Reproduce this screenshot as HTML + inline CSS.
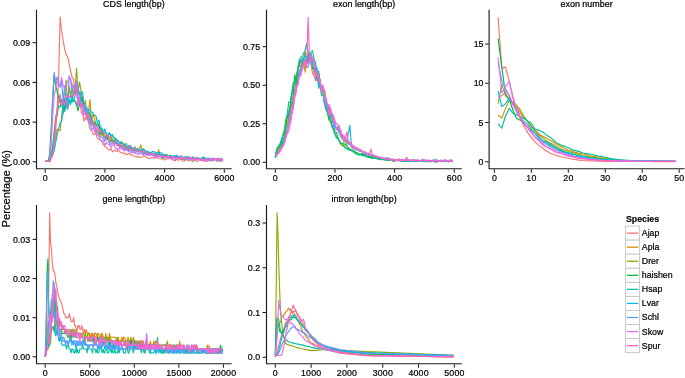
<!DOCTYPE html>
<html><head><meta charset="utf-8"><title>Gene structure statistics</title>
<style>html,body{margin:0;padding:0;background:#fff}body{width:685px;height:378px;overflow:hidden}</style></head>
<body>
<svg width="685" height="378" viewBox="0 0 685 378" style="display:block;will-change:transform;opacity:0.999;font-family:'Liberation Sans',Arial,Helvetica,sans-serif">
<rect width="685" height="378" fill="#fff"/>
<g fill="none" stroke-width="1.15" stroke-linejoin="round" stroke-linecap="butt">
<polyline stroke="#F8766D" points="45.20,161.40 46.69,161.40 48.19,161.36 49.68,161.27 51.17,157.58 52.66,153.92 54.16,143.27 55.65,132.38 57.14,109.09 58.63,77.55 60.12,17.06 61.62,31.11 63.11,39.98 64.60,48.87 66.09,54.66 67.59,56.70 69.08,63.64 70.57,70.85 72.06,77.11 73.56,79.31 75.05,92.65 76.54,88.93 78.03,99.11 79.53,98.44 81.02,105.62 82.51,110.10 84.00,121.26 85.50,117.51 86.99,119.09 88.48,121.81 89.98,129.21 91.47,129.84 92.96,133.76 94.45,134.70 95.95,133.18 97.44,138.36 98.93,139.60 100.42,139.63 101.92,141.79 103.41,144.64 104.90,146.48 106.39,147.35 107.89,148.86 109.38,150.16 110.87,148.56 112.36,151.72 113.86,150.97 115.35,150.15 116.84,151.67 118.33,150.10 119.83,152.01 121.32,152.84 122.81,153.13 124.30,152.94 125.80,154.50 127.29,154.50 128.78,153.45 130.27,154.84 131.76,154.32 133.26,155.91 134.75,156.24 136.24,156.94 137.74,156.19 139.23,157.46 140.72,157.27 142.21,157.15 143.71,156.10 145.20,156.53 146.69,157.63 148.18,158.29 149.68,158.61 151.17,157.77 152.66,157.48 154.15,158.32 155.65,157.64 157.14,157.74 158.63,158.08 160.12,158.15 161.62,159.26 163.11,157.62 164.60,160.14 166.09,158.64 167.59,158.84 169.08,158.70 170.57,158.03 172.06,158.52 173.56,160.31 175.05,160.82 176.54,158.80 178.03,160.27 179.53,159.70 181.02,159.03 182.51,161.03 184.00,161.23 185.50,159.71 186.99,159.84 188.48,160.34 189.97,159.98 191.47,160.93 192.96,161.40 194.45,160.37 195.94,161.05 197.44,161.40 198.93,159.69 200.42,160.45 201.91,160.12 203.41,161.08 204.90,160.84 206.39,161.18 207.88,161.13 209.38,160.28 210.87,161.04 212.36,160.38 213.85,160.33 215.35,159.13 216.84,161.40 218.33,159.99 219.82,160.82 221.31,160.65 222.81,161.40"/>
<polyline stroke="#D39200" points="45.20,161.40 46.69,161.40 48.19,161.36 49.68,161.27 51.17,157.59 52.66,153.68 54.16,145.49 55.65,138.19 57.14,129.18 58.63,130.13 60.12,130.69 61.62,116.00 63.11,102.88 64.60,105.35 66.09,108.20 67.59,103.98 69.08,89.29 70.57,93.09 72.06,92.06 73.56,91.01 75.05,88.80 76.54,85.82 78.03,89.08 79.53,92.75 81.02,101.51 82.51,96.48 84.00,106.01 85.50,100.55 86.99,114.52 88.48,112.26 89.98,99.62 91.47,122.29 92.96,114.20 94.45,117.87 95.95,124.91 97.44,123.90 98.93,126.85 100.42,136.32 101.92,132.39 103.41,134.18 104.90,134.75 106.39,138.17 107.89,137.94 109.38,137.67 110.87,136.52 112.36,140.11 113.86,141.39 115.35,138.28 116.84,142.87 118.33,145.03 119.83,145.55 121.32,141.68 122.81,142.74 124.30,144.74 125.80,145.66 127.29,147.58 128.78,145.35 130.27,148.42 131.76,147.58 133.26,149.41 134.75,147.77 136.24,150.58 137.74,150.70 139.23,150.60 140.72,145.00 142.21,149.38 143.71,151.26 145.20,152.99 146.69,153.25 148.18,154.11 149.68,153.34 151.17,153.33 152.66,154.71 154.15,154.49 155.65,155.27 157.14,155.50 158.63,149.89 160.12,154.60 161.62,156.92 163.11,155.07 164.60,156.62 166.09,156.37 167.59,154.79 169.08,156.84 170.57,155.68 172.06,157.15 173.56,156.54 175.05,157.55 176.54,157.49 178.03,156.06 179.53,157.61 181.02,157.17 182.51,158.06 184.00,158.46 185.50,158.38 186.99,158.32 188.48,157.01 189.97,159.15 191.47,158.02 192.96,159.21 194.45,157.94 195.94,159.21 197.44,159.45 198.93,158.83 200.42,158.16 201.91,160.33 203.41,159.74 204.90,159.22 206.39,159.69 207.88,159.09 209.38,159.99 210.87,159.90 212.36,158.84 213.85,159.97 215.35,159.07 216.84,160.12 218.33,160.46 219.82,160.91 221.31,158.21 222.81,159.90"/>
<polyline stroke="#93AA00" points="45.20,161.40 46.69,161.40 48.19,161.36 49.68,161.27 51.17,153.28 52.66,146.25 54.16,131.68 55.65,116.43 57.14,112.44 58.63,103.18 60.12,98.11 61.62,102.88 63.11,101.13 64.60,93.15 66.09,80.43 67.59,106.73 69.08,86.47 70.57,96.59 72.06,84.04 73.56,95.70 75.05,89.51 76.54,68.26 78.03,91.44 79.53,81.94 81.02,91.04 82.51,101.48 84.00,107.22 85.50,115.14 86.99,111.09 88.48,112.45 89.98,115.49 91.47,117.21 92.96,124.35 94.45,121.93 95.95,125.89 97.44,123.56 98.93,124.25 100.42,130.98 101.92,134.15 103.41,136.01 104.90,138.38 106.39,138.69 107.89,138.93 109.38,142.35 110.87,138.24 112.36,140.78 113.86,140.97 115.35,143.17 116.84,143.66 118.33,145.58 119.83,144.20 121.32,146.73 122.81,146.23 124.30,146.38 125.80,149.31 127.29,147.08 128.78,149.54 130.27,150.05 131.76,149.44 133.26,152.04 134.75,149.33 136.24,150.83 137.74,151.40 139.23,150.82 140.72,150.40 142.21,151.42 143.71,152.59 145.20,153.02 146.69,151.89 148.18,154.34 149.68,154.23 151.17,153.79 152.66,154.00 154.15,155.38 155.65,155.62 157.14,157.00 158.63,154.48 160.12,155.86 161.62,155.61 163.11,155.51 164.60,155.92 166.09,156.61 167.59,155.77 169.08,157.05 170.57,156.94 172.06,158.29 173.56,156.03 175.05,156.78 176.54,157.52 178.03,157.66 179.53,158.34 181.02,156.91 182.51,159.08 184.00,159.56 185.50,158.24 186.99,156.81 188.48,157.98 189.97,158.66 191.47,157.61 192.96,157.18 194.45,158.75 195.94,158.55 197.44,157.53 198.93,158.56 200.42,158.53 201.91,159.70 203.41,157.86 204.90,157.83 206.39,158.73 207.88,158.76 209.38,160.61 210.87,159.09 212.36,159.60 213.85,159.04 215.35,158.94 216.84,159.64 218.33,160.79 219.82,159.46 221.31,160.19 222.81,160.17"/>
<polyline stroke="#00BA38" points="45.20,161.40 46.69,161.40 48.19,161.30 49.68,153.67 51.17,128.56 52.66,100.94 54.16,75.15 55.65,85.03 57.14,91.66 58.63,97.62 60.12,102.44 61.62,100.37 63.11,99.20 64.60,110.75 66.09,99.17 67.59,109.33 69.08,100.76 70.57,101.84 72.06,101.92 73.56,99.68 75.05,101.21 76.54,103.48 78.03,110.78 79.53,104.39 81.02,97.52 82.51,100.15 84.00,106.06 85.50,111.37 86.99,119.22 88.48,113.66 89.98,121.29 91.47,123.31 92.96,125.08 94.45,126.50 95.95,129.41 97.44,131.49 98.93,134.18 100.42,132.97 101.92,129.30 103.41,136.40 104.90,138.12 106.39,136.33 107.89,138.91 109.38,142.54 110.87,141.29 112.36,139.97 113.86,142.69 115.35,143.12 116.84,142.12 118.33,145.79 119.83,145.53 121.32,147.69 122.81,144.87 124.30,149.09 125.80,149.37 127.29,149.17 128.78,147.68 130.27,149.51 131.76,148.29 133.26,152.59 134.75,149.17 136.24,149.70 137.74,150.61 139.23,151.58 140.72,152.45 142.21,154.12 143.71,153.12 145.20,153.20 146.69,154.95 148.18,152.81 149.68,153.94 151.17,152.35 152.66,154.62 154.15,156.28 155.65,155.35 157.14,155.32 158.63,156.19 160.12,155.20 161.62,156.68 163.11,158.67 164.60,155.38 166.09,156.08 167.59,156.44 169.08,156.78 170.57,156.02 172.06,157.49 173.56,157.36 175.05,157.44 176.54,156.59 178.03,158.59 179.53,157.47 181.02,158.48 182.51,158.96 184.00,157.20 185.50,158.76 186.99,158.85 188.48,158.71 189.97,158.23 191.47,158.25 192.96,159.13 194.45,158.55 195.94,158.56 197.44,159.42 198.93,158.94 200.42,159.01 201.91,159.73 203.41,159.61 204.90,159.05 206.39,158.81 207.88,160.03 209.38,159.87 210.87,158.87 212.36,159.27 213.85,159.19 215.35,158.88 216.84,159.28 218.33,158.27 219.82,160.55 221.31,159.32 222.81,160.44"/>
<polyline stroke="#00C19F" points="45.20,161.40 46.69,161.40 48.19,161.38 49.68,161.28 51.17,154.83 52.66,148.36 54.16,134.95 55.65,122.17 57.14,115.07 58.63,105.94 60.12,107.04 61.62,99.46 63.11,113.70 64.60,98.01 66.09,105.69 67.59,94.19 69.08,99.53 70.57,102.48 72.06,94.91 73.56,101.38 75.05,100.78 76.54,105.90 78.03,99.10 79.53,98.03 81.02,97.09 82.51,105.59 84.00,102.59 85.50,109.77 86.99,112.54 88.48,112.04 89.98,112.37 91.47,120.59 92.96,121.27 94.45,123.40 95.95,123.83 97.44,127.64 98.93,123.94 100.42,129.51 101.92,128.71 103.41,133.68 104.90,132.14 106.39,133.35 107.89,135.53 109.38,132.54 110.87,135.40 112.36,134.50 113.86,137.70 115.35,141.47 116.84,141.90 118.33,140.66 119.83,142.72 121.32,142.13 122.81,144.76 124.30,148.76 125.80,145.94 127.29,150.21 128.78,145.85 130.27,147.04 131.76,147.85 133.26,149.21 134.75,148.73 136.24,149.24 137.74,151.05 139.23,150.97 140.72,151.55 142.21,149.86 143.71,148.75 145.20,152.34 146.69,151.08 148.18,152.90 149.68,152.78 151.17,153.91 152.66,153.21 154.15,153.79 155.65,152.64 157.14,153.86 158.63,152.54 160.12,155.79 161.62,154.56 163.11,155.31 164.60,154.49 166.09,154.74 167.59,155.14 169.08,157.48 170.57,157.41 172.06,156.51 173.56,156.20 175.05,156.91 176.54,157.60 178.03,157.75 179.53,156.98 181.02,155.87 182.51,157.32 184.00,158.05 185.50,159.22 186.99,158.68 188.48,156.30 189.97,159.79 191.47,158.50 192.96,157.69 194.45,158.24 195.94,159.02 197.44,158.78 198.93,158.93 200.42,158.83 201.91,160.62 203.41,158.64 204.90,159.59 206.39,159.15 207.88,158.32 209.38,158.26 210.87,158.68 212.36,159.29 213.85,158.25 215.35,158.54 216.84,158.66 218.33,158.35 219.82,159.82 221.31,159.26 222.81,159.35"/>
<polyline stroke="#00B9E3" points="45.20,161.40 46.69,161.40 48.19,161.36 49.68,161.27 51.17,158.05 52.66,154.70 54.16,151.22 55.65,142.95 57.14,134.82 58.63,128.95 60.12,122.75 61.62,121.22 63.11,112.54 64.60,111.29 66.09,103.37 67.59,94.16 69.08,99.79 70.57,104.65 72.06,98.04 73.56,99.79 75.05,96.44 76.54,80.96 78.03,87.63 79.53,101.32 81.02,91.97 82.51,92.15 84.00,103.81 85.50,108.19 86.99,109.27 88.48,109.13 89.98,110.25 91.47,111.84 92.96,112.93 94.45,115.27 95.95,115.80 97.44,122.81 98.93,119.99 100.42,127.25 101.92,128.52 103.41,132.10 104.90,128.88 106.39,134.65 107.89,137.61 109.38,133.44 110.87,135.03 112.36,136.99 113.86,137.76 115.35,138.18 116.84,139.32 118.33,145.05 119.83,143.55 121.32,142.98 122.81,144.54 124.30,145.11 125.80,143.28 127.29,145.79 128.78,147.97 130.27,145.55 131.76,147.95 133.26,148.65 134.75,146.82 136.24,149.86 137.74,148.07 139.23,149.68 140.72,149.90 142.21,150.52 143.71,150.06 145.20,150.53 146.69,153.09 148.18,151.33 149.68,153.00 151.17,152.39 152.66,151.51 154.15,151.84 155.65,152.35 157.14,154.66 158.63,152.65 160.12,152.72 161.62,152.79 163.11,154.75 164.60,156.36 166.09,155.79 167.59,156.91 169.08,156.71 170.57,155.21 172.06,156.67 173.56,155.95 175.05,155.89 176.54,155.18 178.03,156.50 179.53,157.48 181.02,156.80 182.51,157.19 184.00,157.94 185.50,156.39 186.99,158.32 188.48,157.35 189.97,158.48 191.47,157.91 192.96,156.94 194.45,158.68 195.94,158.04 197.44,159.16 198.93,159.28 200.42,158.97 201.91,158.00 203.41,156.89 204.90,158.63 206.39,159.29 207.88,158.17 209.38,159.21 210.87,158.25 212.36,159.23 213.85,158.68 215.35,158.88 216.84,159.53 218.33,159.55 219.82,161.13 221.31,159.86 222.81,160.42"/>
<polyline stroke="#619CFF" points="45.20,161.40 46.69,161.40 48.19,161.36 49.68,161.27 51.17,136.09 52.66,96.73 54.16,72.23 55.65,81.23 57.14,76.97 58.63,83.77 60.12,87.35 61.62,79.97 63.11,101.86 64.60,85.73 66.09,99.34 67.59,109.77 69.08,75.88 70.57,80.03 72.06,94.21 73.56,85.98 75.05,87.76 76.54,90.40 78.03,103.99 79.53,103.84 81.02,102.65 82.51,106.97 84.00,105.73 85.50,113.36 86.99,107.24 88.48,121.44 89.98,120.29 91.47,129.14 92.96,129.12 94.45,124.37 95.95,132.04 97.44,130.07 98.93,134.67 100.42,137.21 101.92,137.19 103.41,139.07 104.90,141.25 106.39,138.83 107.89,139.67 109.38,142.53 110.87,144.74 112.36,142.23 113.86,144.93 115.35,143.21 116.84,140.49 118.33,145.22 119.83,146.88 121.32,146.45 122.81,148.92 124.30,149.41 125.80,149.60 127.29,148.78 128.78,151.70 130.27,149.94 131.76,151.64 133.26,151.91 134.75,153.05 136.24,150.92 137.74,151.43 139.23,151.67 140.72,152.07 142.21,151.69 143.71,154.13 145.20,153.12 146.69,150.98 148.18,154.81 149.68,154.29 151.17,153.83 152.66,155.48 154.15,154.64 155.65,154.17 157.14,156.67 158.63,155.86 160.12,155.71 161.62,157.00 163.11,156.63 164.60,157.49 166.09,157.37 167.59,157.18 169.08,156.13 170.57,156.81 172.06,157.38 173.56,157.71 175.05,157.95 176.54,157.38 178.03,157.63 179.53,156.43 181.02,158.55 182.51,157.00 184.00,157.31 185.50,158.57 186.99,159.34 188.48,158.65 189.97,158.83 191.47,158.65 192.96,160.78 194.45,158.31 195.94,158.99 197.44,159.50 198.93,159.48 200.42,159.40 201.91,159.13 203.41,159.98 204.90,160.31 206.39,159.11 207.88,159.69 209.38,159.74 210.87,160.09 212.36,160.78 213.85,159.78 215.35,159.11 216.84,160.67 218.33,158.49 219.82,159.47 221.31,160.44 222.81,159.17"/>
<polyline stroke="#DB72FB" points="45.20,161.40 46.69,161.40 48.19,161.37 49.68,161.28 51.17,146.03 52.66,115.97 54.16,95.52 55.65,88.34 57.14,78.96 58.63,86.18 60.12,83.13 61.62,77.55 63.11,85.45 64.60,88.16 66.09,86.79 67.59,81.18 69.08,78.44 70.57,77.92 72.06,87.92 73.56,85.29 75.05,84.97 76.54,82.13 78.03,104.92 79.53,94.54 81.02,111.06 82.51,115.28 84.00,113.53 85.50,113.77 86.99,119.05 88.48,119.24 89.98,124.66 91.47,124.01 92.96,126.26 94.45,131.84 95.95,129.54 97.44,135.55 98.93,136.10 100.42,140.27 101.92,140.81 103.41,140.85 104.90,145.56 106.39,142.02 107.89,144.19 109.38,144.26 110.87,147.68 112.36,145.39 113.86,144.63 115.35,148.35 116.84,148.43 118.33,150.27 119.83,147.83 121.32,149.18 122.81,148.87 124.30,151.16 125.80,149.39 127.29,150.77 128.78,150.40 130.27,152.35 131.76,152.56 133.26,150.66 134.75,152.83 136.24,154.14 137.74,152.49 139.23,154.63 140.72,152.66 142.21,153.41 143.71,155.30 145.20,154.47 146.69,154.76 148.18,155.75 149.68,155.74 151.17,155.51 152.66,154.92 154.15,156.20 155.65,156.41 157.14,157.99 158.63,156.14 160.12,156.77 161.62,154.93 163.11,157.78 164.60,157.24 166.09,157.08 167.59,157.84 169.08,157.71 170.57,158.57 172.06,159.68 173.56,157.36 175.05,158.08 176.54,158.97 178.03,159.23 179.53,157.52 181.02,158.82 182.51,158.17 184.00,158.06 185.50,159.30 186.99,158.45 188.48,159.06 189.97,159.11 191.47,159.68 192.96,159.27 194.45,158.43 195.94,159.30 197.44,159.45 198.93,159.90 200.42,159.58 201.91,160.19 203.41,160.31 204.90,160.21 206.39,160.09 207.88,160.10 209.38,160.43 210.87,158.74 212.36,159.25 213.85,159.90 215.35,160.18 216.84,158.48 218.33,160.24 219.82,160.15 221.31,160.16 222.81,160.17"/>
<polyline stroke="#FF61C3" points="45.20,161.40 46.69,161.40 48.19,161.34 49.68,161.28 51.17,158.18 52.66,155.32 54.16,145.35 55.65,122.37 57.14,108.94 58.63,100.44 60.12,94.45 61.62,105.77 63.11,100.76 64.60,105.41 66.09,95.90 67.59,96.07 69.08,96.33 70.57,97.42 72.06,94.83 73.56,96.13 75.05,89.91 76.54,85.63 78.03,106.51 79.53,100.23 81.02,105.66 82.51,104.18 84.00,113.51 85.50,112.52 86.99,118.59 88.48,114.11 89.98,118.69 91.47,121.74 92.96,122.52 94.45,126.70 95.95,132.65 97.44,125.78 98.93,130.70 100.42,131.34 101.92,130.80 103.41,132.53 104.90,139.61 106.39,138.25 107.89,133.99 109.38,137.21 110.87,141.70 112.36,142.28 113.86,142.60 115.35,141.88 116.84,146.17 118.33,143.53 119.83,147.42 121.32,145.47 122.81,145.22 124.30,149.02 125.80,147.28 127.29,146.99 128.78,145.84 130.27,149.31 131.76,149.14 133.26,150.06 134.75,147.20 136.24,149.94 137.74,151.19 139.23,150.95 140.72,151.31 142.21,151.62 143.71,150.94 145.20,152.37 146.69,152.59 148.18,154.46 149.68,153.71 151.17,153.11 152.66,154.21 154.15,153.38 155.65,154.86 157.14,155.86 158.63,155.06 160.12,155.17 161.62,155.59 163.11,156.70 164.60,156.06 166.09,157.22 167.59,155.94 169.08,156.88 170.57,156.73 172.06,156.30 173.56,156.77 175.05,159.81 176.54,157.63 178.03,158.31 179.53,157.42 181.02,155.96 182.51,158.00 184.00,158.05 185.50,158.20 186.99,158.28 188.48,157.43 189.97,157.13 191.47,159.14 192.96,157.91 194.45,159.61 195.94,158.28 197.44,157.54 198.93,158.30 200.42,159.35 201.91,159.69 203.41,159.48 204.90,159.20 206.39,158.30 207.88,160.55 209.38,158.80 210.87,158.68 212.36,159.27 213.85,159.42 215.35,158.37 216.84,159.36 218.33,159.45 219.82,159.12 221.31,158.38 222.81,161.22"/>
</g>
<g stroke="#1c1c1c" stroke-width="1.15" fill="none">
<path d="M36.50 9.80V168.76H231.70" stroke-linecap="butt"/>
</g><g stroke="#1c1c1c" stroke-width="1.05" fill="none">
<path d="M45.20 169.26v3.6"/>
<path d="M104.90 169.26v3.6"/>
<path d="M164.60 169.26v3.6"/>
<path d="M224.30 169.26v3.6"/>
<path d="M36.00 161.80h-3.4"/>
<path d="M36.00 122.11h-3.4"/>
<path d="M36.00 82.42h-3.4"/>
<path d="M36.00 42.73h-3.4"/>
</g>
<g font-size="8.8" fill="#000" stroke="#000" stroke-width="0.22" stroke-linejoin="round">
<text x="45.30" y="181.36" text-anchor="middle" letter-spacing="0.2">0</text>
<text x="105.00" y="181.36" text-anchor="middle" letter-spacing="0.2">2000</text>
<text x="164.70" y="181.36" text-anchor="middle" letter-spacing="0.2">4000</text>
<text x="224.40" y="181.36" text-anchor="middle" letter-spacing="0.2">6000</text>
<text x="30.10" y="164.95" text-anchor="end">0.00</text>
<text x="30.10" y="125.26" text-anchor="end">0.03</text>
<text x="30.10" y="85.57" text-anchor="end">0.06</text>
<text x="30.10" y="45.88" text-anchor="end">0.09</text>
<text x="133.90" y="7.20" text-anchor="middle" font-size="8.95">CDS length(bp)</text>
</g>
<g fill="none" stroke-width="1.15" stroke-linejoin="round" stroke-linecap="butt">
<polyline stroke="#F8766D" points="275.30,157.30 276.79,153.10 278.28,150.85 279.77,149.07 281.27,147.21 282.76,141.93 284.25,138.15 285.74,132.44 287.23,129.43 288.72,117.22 290.22,111.95 291.71,105.41 293.20,99.58 294.69,92.85 296.18,86.37 297.67,81.14 299.17,74.53 300.66,68.65 302.15,69.92 303.64,64.95 305.13,65.59 306.62,61.36 308.12,52.85 309.61,59.25 311.10,64.65 312.59,73.98 314.08,75.60 315.57,80.79 317.07,68.69 318.56,81.28 320.05,82.08 321.54,91.55 323.03,91.59 324.52,92.41 326.02,104.42 327.51,107.73 329.00,112.99 330.49,110.64 331.98,119.09 333.47,122.72 334.97,126.89 336.46,129.67 337.95,128.37 339.44,126.12 340.93,135.68 342.42,134.74 343.92,138.01 345.41,141.07 346.90,141.39 348.39,142.37 349.88,144.04 351.37,142.89 352.87,148.48 354.36,147.73 355.85,147.48 357.34,149.59 358.83,149.95 360.32,149.54 361.82,150.79 363.31,151.67 364.80,152.74 366.29,153.17 367.78,153.44 369.27,153.58 370.77,154.76 372.26,155.77 373.75,156.80 375.24,156.09 376.73,156.66 378.22,157.21 379.72,157.64 381.21,158.42 382.70,158.09 384.19,159.21 385.68,158.15 387.17,158.31 388.67,157.95 390.16,159.16 391.65,159.78 393.14,160.29 394.63,161.53 396.12,160.24 397.62,159.93 399.11,159.39 400.60,159.78 402.09,159.94 403.58,160.16 405.07,159.89 406.57,159.75 408.06,160.80 409.55,160.59 411.04,161.13 412.53,159.72 414.02,159.88 415.52,160.09 417.01,161.19 418.50,160.42 419.99,160.73 421.48,160.63 422.97,160.71 424.47,160.42 425.96,160.91 427.45,160.39 428.94,160.65 430.43,160.76 431.92,160.66 433.41,160.91 434.91,160.32 436.40,160.94 437.89,160.67 439.38,160.98 440.87,161.58 442.36,160.49 443.86,161.35 445.35,160.59 446.84,160.76 448.33,161.66 449.82,161.38 451.31,161.13 452.81,161.35"/>
<polyline stroke="#D39200" points="275.30,154.61 276.79,151.68 278.28,149.23 279.77,147.78 281.27,143.93 282.76,141.19 284.25,136.96 285.74,129.10 287.23,123.82 288.72,117.79 290.22,111.50 291.71,102.29 293.20,94.35 294.69,88.71 296.18,83.51 297.67,75.03 299.17,62.12 300.66,67.73 302.15,62.05 303.64,60.62 305.13,72.13 306.62,59.93 308.12,63.25 309.61,54.52 311.10,62.69 312.59,67.84 314.08,68.07 315.57,69.81 317.07,76.04 318.56,77.34 320.05,88.69 321.54,88.71 323.03,88.84 324.52,89.75 326.02,100.66 327.51,106.68 329.00,108.25 330.49,111.45 331.98,112.92 333.47,118.77 334.97,125.21 336.46,127.26 337.95,129.21 339.44,131.57 340.93,135.13 342.42,138.27 343.92,142.31 345.41,141.38 346.90,144.03 348.39,143.04 349.88,143.42 351.37,147.36 352.87,147.03 354.36,147.07 355.85,149.23 357.34,149.09 358.83,150.98 360.32,151.25 361.82,151.07 363.31,152.03 364.80,152.67 366.29,152.88 367.78,154.74 369.27,154.64 370.77,155.88 372.26,156.08 373.75,155.67 375.24,156.69 376.73,157.77 378.22,156.94 379.72,157.62 381.21,158.13 382.70,158.23 384.19,158.73 385.68,159.52 387.17,159.53 388.67,158.57 390.16,160.22 391.65,159.72 393.14,159.60 394.63,159.65 396.12,160.51 397.62,160.26 399.11,159.97 400.60,159.78 402.09,160.54 403.58,160.85 405.07,159.88 406.57,159.86 408.06,160.27 409.55,160.82 411.04,160.33 412.53,160.54 414.02,160.14 415.52,161.21 417.01,160.72 418.50,160.65 419.99,161.18 421.48,160.67 422.97,160.70 424.47,160.97 425.96,160.43 427.45,161.38 428.94,160.89 430.43,160.56 431.92,160.70 433.41,160.21 434.91,161.45 436.40,161.68 437.89,160.75 439.38,160.69 440.87,159.94 442.36,160.75 443.86,161.31 445.35,160.49 446.84,161.45 448.33,161.61 449.82,159.82 451.31,160.74 452.81,160.68"/>
<polyline stroke="#93AA00" points="275.30,155.63 276.79,150.81 278.28,147.30 279.77,146.57 281.27,143.56 282.76,136.36 284.25,131.04 285.74,126.13 287.23,118.57 288.72,111.34 290.22,105.81 291.71,93.93 293.20,87.52 294.69,82.11 296.18,76.00 297.67,69.94 299.17,66.32 300.66,60.47 302.15,66.97 303.64,58.40 305.13,51.46 306.62,62.00 308.12,59.10 309.61,55.64 311.10,53.96 312.59,58.96 314.08,74.12 315.57,66.82 317.07,78.22 318.56,82.18 320.05,79.39 321.54,90.25 323.03,92.79 324.52,90.45 326.02,104.58 327.51,111.62 329.00,120.49 330.49,122.16 331.98,126.56 333.47,129.13 334.97,134.58 336.46,136.41 337.95,137.77 339.44,142.07 340.93,144.87 342.42,145.75 343.92,144.63 345.41,147.20 346.90,147.95 348.39,148.39 349.88,150.23 351.37,150.01 352.87,152.01 354.36,150.97 355.85,152.65 357.34,153.28 358.83,154.62 360.32,154.18 361.82,155.64 363.31,154.26 364.80,155.22 366.29,156.66 367.78,157.24 369.27,156.96 370.77,158.23 372.26,157.84 373.75,158.28 375.24,157.87 376.73,158.55 378.22,159.14 379.72,159.21 381.21,159.68 382.70,159.07 384.19,159.72 385.68,159.12 387.17,160.33 388.67,159.76 390.16,160.22 391.65,160.46 393.14,161.56 394.63,161.11 396.12,160.35 397.62,160.03 399.11,160.61 400.60,160.38 402.09,161.11 403.58,160.94 405.07,161.18 406.57,160.52 408.06,160.89 409.55,161.23 411.04,161.27 412.53,160.78 414.02,160.94 415.52,161.52 417.01,160.33 418.50,160.92 419.99,161.13 421.48,160.47 422.97,160.61 424.47,161.17 425.96,160.92 427.45,161.70 428.94,161.55 430.43,161.80 431.92,160.67 433.41,161.80 434.91,160.91 436.40,161.61 437.89,161.70 439.38,161.35 440.87,161.20 442.36,161.09 443.86,160.50 445.35,161.19 446.84,160.94 448.33,161.62 449.82,161.06 451.31,161.33 452.81,161.59"/>
<polyline stroke="#00BA38" points="275.30,157.49 276.79,149.60 278.28,147.86 279.77,146.18 281.27,142.03 282.76,136.24 284.25,133.90 285.74,125.76 287.23,115.35 288.72,115.97 290.22,105.04 291.71,93.87 293.20,94.40 294.69,74.87 296.18,84.54 297.67,68.22 299.17,62.01 300.66,59.63 302.15,63.20 303.64,59.71 305.13,63.05 306.62,57.18 308.12,63.18 309.61,59.71 311.10,54.22 312.59,68.91 314.08,66.98 315.57,68.07 317.07,80.43 318.56,71.43 320.05,80.58 321.54,95.09 323.03,95.12 324.52,103.70 326.02,109.51 327.51,112.68 329.00,119.35 330.49,118.12 331.98,125.54 333.47,125.74 334.97,132.06 336.46,132.36 337.95,138.00 339.44,140.96 340.93,142.95 342.42,143.68 343.92,143.92 345.41,144.03 346.90,145.75 348.39,147.71 349.88,149.40 351.37,149.63 352.87,149.97 354.36,151.98 355.85,151.98 357.34,153.02 358.83,154.16 360.32,154.13 361.82,153.38 363.31,155.23 364.80,154.24 366.29,155.89 367.78,156.46 369.27,156.62 370.77,157.16 372.26,156.64 373.75,157.68 375.24,158.00 376.73,158.30 378.22,157.75 379.72,158.34 381.21,159.39 382.70,159.66 384.19,159.24 385.68,160.05 387.17,159.97 388.67,160.46 390.16,160.40 391.65,160.08 393.14,159.98 394.63,160.48 396.12,159.60 397.62,160.66 399.11,159.12 400.60,160.18 402.09,160.60 403.58,160.97 405.07,161.80 406.57,160.91 408.06,160.84 409.55,160.16 411.04,161.70 412.53,160.04 414.02,161.13 415.52,160.77 417.01,161.80 418.50,161.01 419.99,161.32 421.48,160.88 422.97,161.13 424.47,161.62 425.96,160.68 427.45,160.82 428.94,160.86 430.43,160.66 431.92,160.75 433.41,161.20 434.91,161.80 436.40,161.80 437.89,160.61 439.38,160.90 440.87,161.20 442.36,161.51 443.86,161.27 445.35,161.18 446.84,161.48 448.33,161.69 449.82,160.30 451.31,161.20 452.81,161.60"/>
<polyline stroke="#00C19F" points="275.30,157.17 276.79,148.88 278.28,146.08 279.77,144.23 281.27,140.08 282.76,135.89 284.25,130.29 285.74,119.76 287.23,114.77 288.72,101.93 290.22,102.51 291.71,92.90 293.20,83.12 294.69,80.82 296.18,78.61 297.67,70.41 299.17,61.32 300.66,57.09 302.15,56.99 303.64,53.31 305.13,50.46 306.62,43.60 308.12,52.96 309.61,55.72 311.10,51.91 312.59,50.73 314.08,59.22 315.57,62.33 317.07,75.22 318.56,84.86 320.05,86.66 321.54,85.66 323.03,93.20 324.52,97.03 326.02,107.83 327.51,112.09 329.00,114.56 330.49,119.55 331.98,126.50 333.47,130.22 334.97,133.74 336.46,138.45 337.95,138.66 339.44,140.75 340.93,143.92 342.42,143.09 343.92,146.86 345.41,148.25 346.90,148.71 348.39,150.20 349.88,149.24 351.37,150.92 352.87,150.70 354.36,152.67 355.85,154.04 357.34,154.21 358.83,155.22 360.32,154.58 361.82,155.39 363.31,155.79 364.80,156.33 366.29,155.52 367.78,157.27 369.27,157.51 370.77,157.60 372.26,158.10 373.75,158.18 375.24,157.98 376.73,157.94 378.22,159.59 379.72,158.71 381.21,159.23 382.70,159.51 384.19,159.81 385.68,160.15 387.17,159.49 388.67,160.47 390.16,160.50 391.65,160.48 393.14,160.43 394.63,160.82 396.12,160.20 397.62,160.74 399.11,160.71 400.60,160.85 402.09,161.36 403.58,161.24 405.07,161.43 406.57,160.92 408.06,161.34 409.55,161.56 411.04,160.99 412.53,160.87 414.02,161.80 415.52,160.35 417.01,161.15 418.50,161.26 419.99,160.70 421.48,161.21 422.97,161.48 424.47,160.19 425.96,161.80 427.45,161.28 428.94,160.83 430.43,161.75 431.92,161.35 433.41,161.05 434.91,160.21 436.40,161.76 437.89,161.38 439.38,161.02 440.87,161.26 442.36,161.80 443.86,161.16 445.35,161.36 446.84,161.20 448.33,160.90 449.82,160.94 451.31,161.28 452.81,161.27"/>
<polyline stroke="#00B9E3" points="275.30,157.76 276.79,154.23 278.28,152.73 279.77,149.56 281.27,148.11 282.76,142.29 284.25,137.46 285.74,135.27 287.23,128.67 288.72,122.98 290.22,112.73 291.71,107.11 293.20,100.02 294.69,93.46 296.18,85.62 297.67,82.29 299.17,70.29 300.66,69.84 302.15,59.52 303.64,59.45 305.13,55.12 306.62,58.83 308.12,54.57 309.61,62.38 311.10,55.72 312.59,63.55 314.08,62.93 315.57,68.21 317.07,67.98 318.56,87.86 320.05,81.02 321.54,93.45 323.03,87.63 324.52,104.88 326.02,104.78 327.51,112.64 329.00,105.32 330.49,116.92 331.98,116.40 333.47,121.15 334.97,127.41 336.46,127.56 337.95,127.40 339.44,131.19 340.93,131.89 342.42,137.94 343.92,138.70 345.41,140.88 346.90,140.02 348.39,132.98 349.88,125.43 351.37,145.21 352.87,147.48 354.36,148.32 355.85,147.57 357.34,150.14 358.83,150.28 360.32,150.37 361.82,151.44 363.31,151.77 364.80,154.69 366.29,153.55 367.78,153.80 369.27,155.00 370.77,155.35 372.26,155.59 373.75,155.07 375.24,156.50 376.73,156.96 378.22,157.22 379.72,157.27 381.21,157.59 382.70,158.76 384.19,158.58 385.68,158.72 387.17,158.15 388.67,159.09 390.16,158.85 391.65,159.80 393.14,159.76 394.63,160.33 396.12,160.36 397.62,159.38 399.11,159.71 400.60,159.78 402.09,159.94 403.58,160.22 405.07,160.39 406.57,160.30 408.06,160.14 409.55,160.29 411.04,160.30 412.53,160.42 414.02,160.94 415.52,160.69 417.01,161.01 418.50,160.03 419.99,161.54 421.48,160.72 422.97,159.49 424.47,160.78 425.96,161.12 427.45,160.66 428.94,159.99 430.43,160.71 431.92,160.45 433.41,160.73 434.91,160.88 436.40,159.29 437.89,160.77 439.38,161.15 440.87,161.16 442.36,160.65 443.86,160.63 445.35,160.48 446.84,160.90 448.33,161.52 449.82,160.71 451.31,161.07 452.81,161.08"/>
<polyline stroke="#619CFF" points="275.30,154.54 276.79,155.21 278.28,151.71 279.77,151.13 281.27,147.42 282.76,143.84 284.25,141.65 285.74,136.73 287.23,132.08 288.72,123.39 290.22,121.14 291.71,109.88 293.20,106.49 294.69,95.21 296.18,84.56 297.67,85.81 299.17,76.59 300.66,74.84 302.15,57.74 303.64,62.13 305.13,58.90 306.62,67.65 308.12,67.38 309.61,59.17 311.10,64.34 312.59,67.00 314.08,66.11 315.57,78.88 317.07,68.69 318.56,77.80 320.05,81.09 321.54,90.24 323.03,90.80 324.52,100.29 326.02,99.40 327.51,105.07 329.00,108.14 330.49,112.25 331.98,115.35 333.47,128.33 334.97,123.05 336.46,128.54 337.95,130.27 339.44,133.82 340.93,137.38 342.42,138.55 343.92,138.33 345.41,139.09 346.90,142.13 348.39,144.20 349.88,144.26 351.37,146.99 352.87,145.25 354.36,147.90 355.85,149.69 357.34,149.41 358.83,149.99 360.32,151.51 361.82,151.44 363.31,152.96 364.80,153.08 366.29,153.84 367.78,155.23 369.27,155.53 370.77,154.77 372.26,155.50 373.75,155.54 375.24,156.21 376.73,156.42 378.22,156.85 379.72,157.85 381.21,158.05 382.70,158.76 384.19,158.04 385.68,158.49 387.17,158.38 388.67,159.16 390.16,160.48 391.65,159.16 393.14,159.78 394.63,160.00 396.12,160.03 397.62,159.93 399.11,159.76 400.60,160.88 402.09,159.85 403.58,160.57 405.07,160.52 406.57,159.61 408.06,160.05 409.55,160.78 411.04,161.48 412.53,160.52 414.02,160.30 415.52,160.72 417.01,161.29 418.50,160.95 419.99,161.32 421.48,160.53 422.97,160.31 424.47,160.20 425.96,160.97 427.45,160.61 428.94,160.47 430.43,161.08 431.92,160.91 433.41,159.80 434.91,160.65 436.40,160.37 437.89,160.94 439.38,160.85 440.87,161.68 442.36,160.87 443.86,160.38 445.35,159.98 446.84,160.46 448.33,160.61 449.82,161.03 451.31,161.26 452.81,161.17"/>
<polyline stroke="#DB72FB" points="275.30,154.64 276.79,154.77 278.28,153.21 279.77,150.26 281.27,147.83 282.76,146.48 284.25,142.93 285.74,136.16 287.23,132.16 288.72,125.14 290.22,115.62 291.71,108.07 293.20,104.50 294.69,91.78 296.18,86.58 297.67,84.76 299.17,76.44 300.66,76.14 302.15,69.94 303.64,65.71 305.13,60.87 306.62,64.41 308.12,62.96 309.61,59.41 311.10,54.83 312.59,60.34 314.08,60.36 315.57,74.81 317.07,73.84 318.56,76.26 320.05,83.50 321.54,89.66 323.03,84.97 324.52,97.46 326.02,105.05 327.51,105.97 329.00,104.34 330.49,113.02 331.98,113.24 333.47,120.97 334.97,125.22 336.46,127.85 337.95,129.04 339.44,128.12 340.93,135.70 342.42,134.28 343.92,139.71 345.41,140.59 346.90,139.87 348.39,141.94 349.88,143.55 351.37,146.75 352.87,145.92 354.36,149.35 355.85,147.73 357.34,149.41 358.83,149.58 360.32,150.99 361.82,151.15 363.31,152.01 364.80,152.22 366.29,153.65 367.78,154.40 369.27,155.18 370.77,155.33 372.26,154.92 373.75,155.97 375.24,156.68 376.73,156.64 378.22,156.92 379.72,157.28 381.21,157.29 382.70,157.91 384.19,158.34 385.68,159.12 387.17,158.43 388.67,158.81 390.16,159.64 391.65,159.91 393.14,158.79 394.63,160.16 396.12,159.88 397.62,159.97 399.11,160.47 400.60,160.15 402.09,159.40 403.58,159.93 405.07,159.83 406.57,160.07 408.06,160.35 409.55,160.09 411.04,160.49 412.53,160.86 414.02,160.48 415.52,159.98 417.01,160.44 418.50,160.27 419.99,161.49 421.48,160.12 422.97,159.55 424.47,159.97 425.96,160.80 427.45,161.05 428.94,160.59 430.43,161.15 431.92,160.39 433.41,160.90 434.91,160.28 436.40,160.17 437.89,161.80 439.38,160.64 440.87,161.11 442.36,161.55 443.86,161.26 445.35,161.05 446.84,160.37 448.33,161.68 449.82,160.47 451.31,160.00 452.81,160.63"/>
<polyline stroke="#FF61C3" points="275.30,155.21 276.79,155.72 278.28,153.40 279.77,152.37 281.27,149.57 282.76,146.16 284.25,143.50 285.74,138.58 287.23,133.32 288.72,131.15 290.22,124.08 291.71,115.61 293.20,109.44 294.69,97.71 296.18,92.38 297.67,83.26 299.17,75.09 300.66,70.60 302.15,69.61 303.64,63.05 305.13,61.11 306.62,67.43 308.12,17.25 309.61,59.94 311.10,62.63 312.59,57.57 314.08,61.58 315.57,78.01 317.07,72.85 318.56,81.29 320.05,79.01 321.54,91.60 323.03,87.21 324.52,94.58 326.02,98.01 327.51,106.31 329.00,114.89 330.49,107.06 331.98,116.04 333.47,115.34 334.97,120.62 336.46,124.12 337.95,124.23 339.44,129.84 340.93,130.06 342.42,137.97 343.92,135.40 345.41,139.20 346.90,132.06 348.39,141.58 349.88,142.34 351.37,142.81 352.87,147.32 354.36,146.13 355.85,148.46 357.34,147.88 358.83,148.90 360.32,150.15 361.82,151.42 363.31,151.83 364.80,151.79 366.29,153.05 367.78,153.77 369.27,154.61 370.77,149.16 372.26,154.43 373.75,156.32 375.24,155.70 376.73,156.84 378.22,156.81 379.72,157.45 381.21,157.78 382.70,157.93 384.19,158.88 385.68,158.40 387.17,158.88 388.67,158.88 390.16,159.99 391.65,159.92 393.14,159.89 394.63,160.46 396.12,159.49 397.62,159.94 399.11,159.68 400.60,160.59 402.09,160.03 403.58,160.85 405.07,160.33 406.57,157.17 408.06,160.02 409.55,160.31 411.04,160.43 412.53,159.96 414.02,160.40 415.52,160.34 417.01,160.12 418.50,160.43 419.99,160.63 421.48,160.39 422.97,160.60 424.47,160.48 425.96,160.04 427.45,160.27 428.94,160.82 430.43,161.25 431.92,160.61 433.41,160.81 434.91,160.24 436.40,161.01 437.89,160.82 439.38,160.46 440.87,160.98 442.36,160.94 443.86,160.05 445.35,160.09 446.84,160.57 448.33,160.71 449.82,161.31 451.31,160.67 452.81,160.98"/>
</g>
<g stroke="#1c1c1c" stroke-width="1.15" fill="none">
<path d="M266.50 9.80V168.76H461.80" stroke-linecap="butt"/>
</g><g stroke="#1c1c1c" stroke-width="1.05" fill="none">
<path d="M275.30 169.26v3.6"/>
<path d="M334.97 169.26v3.6"/>
<path d="M394.63 169.26v3.6"/>
<path d="M454.30 169.26v3.6"/>
<path d="M266.00 162.26h-3.4"/>
<path d="M266.00 123.73h-3.4"/>
<path d="M266.00 85.21h-3.4"/>
<path d="M266.00 46.69h-3.4"/>
</g>
<g font-size="8.8" fill="#000" stroke="#000" stroke-width="0.22" stroke-linejoin="round">
<text x="275.40" y="181.36" text-anchor="middle" letter-spacing="0.2">0</text>
<text x="335.07" y="181.36" text-anchor="middle" letter-spacing="0.2">200</text>
<text x="394.73" y="181.36" text-anchor="middle" letter-spacing="0.2">400</text>
<text x="454.40" y="181.36" text-anchor="middle" letter-spacing="0.2">600</text>
<text x="260.10" y="165.41" text-anchor="end">0.00</text>
<text x="260.10" y="126.88" text-anchor="end">0.25</text>
<text x="260.10" y="88.36" text-anchor="end">0.50</text>
<text x="260.10" y="49.84" text-anchor="end">0.75</text>
<text x="364.10" y="7.20" text-anchor="middle" font-size="8.95">exon length(bp)</text>
</g>
<g fill="none" stroke-width="1.15" stroke-linejoin="round" stroke-linecap="butt">
<polyline stroke="#F8766D" points="498.10,17.37 501.79,68.37 505.49,67.04 509.18,80.93 512.88,96.62 516.58,109.96 520.27,118.59 523.97,125.65 527.66,132.63 531.36,137.69 535.06,142.06 538.75,145.39 542.45,147.98 546.14,150.69 549.84,153.06 553.54,154.47 557.23,155.83 560.93,156.77 564.62,157.52 568.32,158.27 572.02,159.08 575.71,159.62 579.41,160.12 583.10,160.49 586.80,160.76 590.50,160.92 594.19,161.03 597.89,161.19 601.58,161.26 605.28,161.35 608.98,161.38 612.67,161.39 616.37,161.41 620.06,161.42 623.76,161.43 627.46,161.45 631.15,161.46 634.85,161.48 638.54,161.50 642.24,161.51 645.94,161.53 649.63,161.53 653.33,161.55 657.02,161.55 660.72,161.56 664.42,161.57 668.11,161.57 671.81,161.59 675.50,161.60"/>
<polyline stroke="#D39200" points="498.10,114.98 501.79,118.12 505.49,108.39 509.18,100.86 512.88,102.90 516.58,106.82 520.27,112.31 523.97,117.81 527.66,121.58 531.36,126.98 535.06,130.10 538.75,133.65 542.45,136.05 546.14,138.09 549.84,140.15 553.54,142.26 557.23,144.56 560.93,146.37 564.62,148.27 568.32,150.06 572.02,150.94 575.71,152.42 579.41,153.44 583.10,153.96 586.80,154.89 590.50,155.76 594.19,156.39 597.89,157.00 601.58,157.75 605.28,158.11 608.98,158.85 612.67,159.31 616.37,159.79 620.06,160.07 623.76,160.40 627.46,160.56 631.15,160.64 634.85,160.76 638.54,160.82 642.24,160.89 645.94,160.95 649.63,161.03 653.33,161.04 657.02,161.07 660.72,161.11 664.42,161.14 668.11,161.20 671.81,161.21 675.50,161.26"/>
<polyline stroke="#93AA00" points="498.10,103.68 501.79,84.06 505.49,95.84 509.18,98.97 512.88,102.11 516.58,105.25 520.27,109.96 523.97,116.24 527.66,121.40 531.36,125.96 535.06,130.92 538.75,135.01 542.45,137.49 546.14,140.73 549.84,143.07 553.54,144.57 557.23,146.82 560.93,149.06 564.62,150.37 568.32,151.52 572.02,152.40 575.71,153.56 579.41,154.54 583.10,155.72 586.80,156.20 590.50,156.82 594.19,157.43 597.89,157.95 601.58,158.46 605.28,158.73 608.98,159.27 612.67,159.76 616.37,160.14 620.06,160.32 623.76,160.63 627.46,160.67 631.15,160.74 634.85,160.87 638.54,160.92 642.24,160.99 645.94,161.02 649.63,161.06 653.33,161.07 657.02,161.13 660.72,161.17 664.42,161.19 668.11,161.24 671.81,161.26 675.50,161.26"/>
<polyline stroke="#00BA38" points="498.10,38.55 501.79,66.80 505.49,94.27 509.18,98.97 512.88,109.96 516.58,118.59 520.27,120.16 523.97,123.30 527.66,127.22 531.36,129.88 535.06,133.19 538.75,137.25 542.45,140.71 546.14,141.88 549.84,144.95 553.54,147.02 557.23,148.85 560.93,150.65 564.62,152.09 568.32,153.08 572.02,153.82 575.71,155.07 579.41,155.91 583.10,156.90 586.80,157.36 590.50,158.04 594.19,158.39 597.89,158.90 601.58,159.26 605.28,159.59 608.98,159.95 612.67,160.26 616.37,160.43 620.06,160.68 623.76,160.83 627.46,160.87 631.15,160.93 634.85,160.97 638.54,161.00 642.24,161.06 645.94,161.09 649.63,161.13 653.33,161.15 657.02,161.22 660.72,161.22 664.42,161.26 668.11,161.29 671.81,161.30 675.50,161.33"/>
<polyline stroke="#00C19F" points="498.10,123.85 501.79,128.16 505.49,116.24 509.18,108.39 512.88,113.10 516.58,114.67 520.27,116.24 523.97,118.59 527.66,120.97 531.36,123.22 535.06,129.11 538.75,130.34 542.45,131.74 546.14,134.94 549.84,136.92 553.54,140.20 557.23,143.14 560.93,145.00 564.62,146.16 568.32,147.75 572.02,149.59 575.71,150.68 579.41,151.66 583.10,153.05 586.80,153.66 590.50,154.24 594.19,154.99 597.89,156.02 601.58,156.44 605.28,157.26 608.98,158.14 612.67,158.93 616.37,159.30 620.06,159.83 623.76,160.10 627.46,160.32 631.15,160.47 634.85,160.64 638.54,160.67 642.24,160.82 645.94,160.87 649.63,160.96 653.33,160.95 657.02,160.99 660.72,161.06 664.42,161.09 668.11,161.13 671.81,161.16 675.50,161.20"/>
<polyline stroke="#00B9E3" points="498.10,90.81 501.79,106.59 505.49,103.68 509.18,98.66 512.88,104.47 516.58,110.74 520.27,116.24 523.97,121.73 527.66,124.11 531.36,129.02 535.06,133.23 538.75,136.52 542.45,140.52 546.14,142.25 549.84,143.83 553.54,146.34 557.23,148.60 560.93,149.95 564.62,151.97 568.32,152.85 572.02,153.82 575.71,154.78 579.41,155.84 583.10,156.37 586.80,156.94 590.50,157.77 594.19,158.19 597.89,158.81 601.58,159.21 605.28,159.41 608.98,159.81 612.67,160.11 616.37,160.39 620.06,160.60 623.76,160.75 627.46,160.80 631.15,160.90 634.85,160.98 638.54,160.98 642.24,161.04 645.94,161.07 649.63,161.12 653.33,161.12 657.02,161.18 660.72,161.21 664.42,161.26 668.11,161.28 671.81,161.30 675.50,161.32"/>
<polyline stroke="#619CFF" points="498.10,61.31 501.79,80.93 505.49,88.77 509.18,95.84 512.88,104.47 516.58,111.53 520.27,117.81 523.97,123.30 527.66,126.87 531.36,131.07 535.06,133.64 538.75,138.80 542.45,141.56 546.14,143.96 549.84,146.81 553.54,148.32 557.23,150.14 560.93,151.93 564.62,152.86 568.32,154.37 572.02,155.38 575.71,156.43 579.41,157.25 583.10,157.79 586.80,158.33 590.50,158.83 594.19,159.19 597.89,159.71 601.58,159.96 605.28,160.25 608.98,160.34 612.67,160.58 616.37,160.73 620.06,160.87 623.76,160.95 627.46,161.01 631.15,161.03 634.85,161.10 638.54,161.08 642.24,161.12 645.94,161.15 649.63,161.17 653.33,161.22 657.02,161.24 660.72,161.26 664.42,161.29 668.11,161.32 671.81,161.34 675.50,161.36"/>
<polyline stroke="#DB72FB" points="498.10,57.38 501.79,92.70 505.49,87.20 509.18,80.93 512.88,98.19 516.58,107.61 520.27,116.24 523.97,123.30 527.66,128.13 531.36,132.58 535.06,137.59 538.75,140.30 542.45,144.77 546.14,146.82 549.84,148.44 553.54,150.92 557.23,152.75 560.93,153.55 564.62,154.88 568.32,156.10 572.02,156.79 575.71,157.73 579.41,158.39 583.10,158.83 586.80,159.30 590.50,159.70 594.19,159.98 597.89,160.26 601.58,160.46 605.28,160.65 608.98,160.77 612.67,160.90 616.37,161.01 620.06,161.10 623.76,161.16 627.46,161.16 631.15,161.20 634.85,161.24 638.54,161.25 642.24,161.29 645.94,161.29 649.63,161.33 653.33,161.34 657.02,161.36 660.72,161.39 664.42,161.40 668.11,161.43 671.81,161.44 675.50,161.44"/>
<polyline stroke="#FF61C3" points="498.10,97.40 501.79,95.84 505.49,91.91 509.18,95.05 512.88,103.68 516.58,111.53 520.27,118.59 523.97,124.87 527.66,126.24 531.36,132.46 535.06,136.81 538.75,140.90 542.45,143.04 546.14,146.64 549.84,148.53 553.54,150.14 557.23,152.15 560.93,153.02 564.62,154.35 568.32,155.63 572.02,156.57 575.71,157.44 579.41,158.10 583.10,158.52 586.80,158.99 590.50,159.42 594.19,159.77 597.89,160.09 601.58,160.31 605.28,160.57 608.98,160.68 612.67,160.78 616.37,160.90 620.06,161.03 623.76,161.11 627.46,161.12 631.15,161.14 634.85,161.21 638.54,161.22 642.24,161.24 645.94,161.25 649.63,161.30 653.33,161.31 657.02,161.34 660.72,161.33 664.42,161.37 668.11,161.40 671.81,161.41 675.50,161.42"/>
</g>
<g stroke="#1c1c1c" stroke-width="1.15" fill="none">
<path d="M489.10 9.80V168.74H684.50" stroke-linecap="butt"/>
</g><g stroke="#1c1c1c" stroke-width="1.05" fill="none">
<path d="M494.40 169.24v3.6"/>
<path d="M531.36 169.24v3.6"/>
<path d="M568.32 169.24v3.6"/>
<path d="M605.28 169.24v3.6"/>
<path d="M642.24 169.24v3.6"/>
<path d="M679.20 169.24v3.6"/>
<path d="M488.60 161.75h-3.4"/>
<path d="M488.60 122.52h-3.4"/>
<path d="M488.60 83.28h-3.4"/>
<path d="M488.60 44.04h-3.4"/>
</g>
<g font-size="8.8" fill="#000" stroke="#000" stroke-width="0.22" stroke-linejoin="round">
<text x="494.50" y="181.34" text-anchor="middle" letter-spacing="0.2">0</text>
<text x="531.46" y="181.34" text-anchor="middle" letter-spacing="0.2">10</text>
<text x="568.42" y="181.34" text-anchor="middle" letter-spacing="0.2">20</text>
<text x="605.38" y="181.34" text-anchor="middle" letter-spacing="0.2">30</text>
<text x="642.34" y="181.34" text-anchor="middle" letter-spacing="0.2">40</text>
<text x="679.30" y="181.34" text-anchor="middle" letter-spacing="0.2">50</text>
<text x="483.50" y="164.90" text-anchor="end">0</text>
<text x="483.50" y="125.67" text-anchor="end">5</text>
<text x="483.50" y="86.43" text-anchor="end">10</text>
<text x="483.50" y="47.19" text-anchor="end">15</text>
<text x="586.60" y="7.20" text-anchor="middle" font-size="8.95">exon number</text>
</g>
<g fill="none" stroke-width="1.15" stroke-linejoin="round" stroke-linecap="butt">
<polyline stroke="#F8766D" points="45.20,356.80 46.09,349.00 46.98,341.11 47.87,321.10 48.76,285.71 49.66,212.80 50.55,243.32 51.44,248.02 52.33,264.14 53.22,270.89 54.11,271.07 55.00,274.37 55.89,282.59 56.78,286.39 57.67,291.99 58.56,296.47 59.46,298.11 60.35,302.02 61.24,302.02 62.13,305.93 63.02,309.84 63.91,313.76 64.80,313.76 65.69,317.67 66.58,317.67 67.47,317.67 68.37,317.67 69.26,313.76 70.15,317.67 71.04,321.58 71.93,321.58 72.82,321.58 73.71,317.67 74.60,325.50 75.49,325.50 76.39,329.41 77.28,329.41 78.17,325.50 79.06,325.50 79.95,329.41 80.84,329.41 81.73,325.50 82.62,329.41 83.51,333.32 84.40,329.41 85.30,333.32 86.19,329.41 87.08,333.32 87.97,333.32 88.86,333.32 89.75,333.32 90.64,337.24 91.53,337.24 92.42,333.32 93.31,341.15 94.20,333.32 95.10,337.24 95.99,337.24 96.88,337.24 97.77,337.24 98.66,337.24 99.55,337.24 100.44,337.24 101.33,337.24 102.22,333.32 103.12,337.24 104.01,341.15 104.90,341.15 105.79,341.15 106.68,341.15 107.57,341.15 108.46,337.24 109.35,345.06 110.24,337.24 111.13,341.15 112.03,341.15 112.92,341.15 113.81,341.15 114.70,341.15 115.59,341.15 116.48,345.06 117.37,341.15 118.26,341.15 119.15,341.15 120.04,341.15 120.94,341.15 121.83,341.15 122.72,341.15 123.61,341.15 124.50,345.06 125.39,341.15 126.28,341.15 127.17,341.15 128.06,348.97 128.95,345.06 129.84,341.15 130.74,345.06 131.63,345.06 132.52,341.15 133.41,341.15 134.30,345.06 135.19,341.15 136.08,345.06 136.97,345.06 137.86,345.06 138.75,345.06 139.65,348.97 140.54,345.06 141.43,345.06 142.32,345.06 143.21,341.15 144.10,348.97 144.99,352.89 145.88,348.97 146.77,345.06 147.66,345.06 148.56,348.97 149.45,348.97 150.34,345.06 151.23,348.97 152.12,345.06 153.01,348.97 153.90,348.97 154.79,345.06 155.68,352.89 156.57,348.97 157.47,348.97 158.36,348.97 159.25,348.97 160.14,348.97 161.03,348.97 161.92,345.06 162.81,348.97 163.70,348.97 164.59,352.89 165.49,348.97 166.38,348.97 167.27,348.97 168.16,348.97 169.05,348.97 169.94,348.97 170.83,352.89 171.72,348.97 172.61,348.97 173.50,352.89 174.39,348.97 175.29,348.97 176.18,352.89 177.07,345.06 177.96,348.97 178.85,348.97 179.74,348.97 180.63,348.97 181.52,348.97 182.41,348.97 183.31,345.06 184.20,348.97 185.09,348.97 185.98,348.97 186.87,352.89 187.76,352.89 188.65,348.97 189.54,348.97 190.43,352.89 191.32,348.97 192.21,348.97 193.11,348.97 194.00,348.97 194.89,345.06 195.78,348.97 196.67,352.89 197.56,348.97 198.45,348.97 199.34,348.97 200.23,348.97 201.12,352.89 202.02,348.97 202.91,348.97 203.80,348.97 204.69,348.97 205.58,352.89 206.47,348.97 207.36,348.97 208.25,352.89 209.14,345.06 210.03,352.89 210.93,352.89 211.82,348.97 212.71,348.97 213.60,348.97 214.49,352.89 215.38,348.97 216.27,348.97 217.16,348.97 218.05,352.89 218.94,348.97 219.84,348.97 220.73,348.97 221.62,352.89 222.51,352.89"/>
<polyline stroke="#D39200" points="45.20,356.80 46.09,354.66 46.98,348.43 47.87,349.76 48.76,345.24 49.66,333.06 50.55,343.11 51.44,327.79 52.33,327.25 53.22,327.77 54.11,331.70 55.00,316.32 55.89,322.75 56.78,307.48 57.67,306.88 58.56,334.58 59.46,321.58 60.35,321.58 61.24,325.50 62.13,325.50 63.02,325.50 63.91,329.41 64.80,329.41 65.69,333.32 66.58,329.41 67.47,333.32 68.37,333.32 69.26,333.32 70.15,333.32 71.04,329.41 71.93,333.32 72.82,329.41 73.71,333.32 74.60,329.41 75.49,333.32 76.39,329.41 77.28,333.32 78.17,333.32 79.06,333.32 79.95,333.32 80.84,333.32 81.73,337.24 82.62,337.24 83.51,337.24 84.40,337.24 85.30,337.24 86.19,337.24 87.08,337.24 87.97,333.32 88.86,333.32 89.75,337.24 90.64,337.24 91.53,333.32 92.42,337.24 93.31,337.24 94.20,333.32 95.10,333.32 95.99,333.32 96.88,337.24 97.77,333.32 98.66,333.32 99.55,337.24 100.44,337.24 101.33,333.32 102.22,337.24 103.12,337.24 104.01,337.24 104.90,337.24 105.79,337.24 106.68,341.15 107.57,337.24 108.46,341.15 109.35,333.32 110.24,337.24 111.13,337.24 112.03,337.24 112.92,337.24 113.81,337.24 114.70,337.24 115.59,337.24 116.48,341.15 117.37,337.24 118.26,341.15 119.15,341.15 120.04,341.15 120.94,341.15 121.83,337.24 122.72,341.15 123.61,337.24 124.50,337.24 125.39,341.15 126.28,341.15 127.17,341.15 128.06,337.24 128.95,341.15 129.84,341.15 130.74,341.15 131.63,345.06 132.52,341.15 133.41,337.24 134.30,341.15 135.19,341.15 136.08,341.15 136.97,341.15 137.86,341.15 138.75,345.06 139.65,341.15 140.54,341.15 141.43,341.15 142.32,341.15 143.21,341.15 144.10,345.06 144.99,345.06 145.88,345.06 146.77,341.15 147.66,345.06 148.56,345.06 149.45,345.06 150.34,341.15 151.23,345.06 152.12,345.06 153.01,345.06 153.90,341.15 154.79,345.06 155.68,341.15 156.57,341.15 157.47,345.06 158.36,345.06 159.25,345.06 160.14,348.97 161.03,345.06 161.92,348.97 162.81,345.06 163.70,345.06 164.59,345.06 165.49,345.06 166.38,352.89 167.27,345.06 168.16,348.97 169.05,345.06 169.94,348.97 170.83,345.06 171.72,345.06 172.61,348.97 173.50,345.06 174.39,348.97 175.29,348.97 176.18,345.06 177.07,348.97 177.96,348.97 178.85,348.97 179.74,341.15 180.63,348.97 181.52,348.97 182.41,348.97 183.31,348.97 184.20,348.97 185.09,348.97 185.98,348.97 186.87,345.06 187.76,348.97 188.65,348.97 189.54,348.97 190.43,348.97 191.32,345.06 192.21,348.97 193.11,348.97 194.00,348.97 194.89,348.97 195.78,345.06 196.67,348.97 197.56,348.97 198.45,348.97 199.34,348.97 200.23,348.97 201.12,348.97 202.02,348.97 202.91,348.97 203.80,348.97 204.69,348.97 205.58,348.97 206.47,348.97 207.36,345.06 208.25,352.89 209.14,348.97 210.03,348.97 210.93,348.97 211.82,348.97 212.71,348.97 213.60,348.97 214.49,348.97 215.38,348.97 216.27,348.97 217.16,348.97 218.05,352.89 218.94,348.97 219.84,352.89 220.73,348.97 221.62,348.97 222.51,348.97"/>
<polyline stroke="#93AA00" points="45.20,356.80 46.09,350.53 46.98,349.33 47.87,347.89 48.76,333.79 49.66,332.72 50.55,334.01 51.44,316.35 52.33,320.04 53.22,310.62 54.11,310.93 55.00,323.37 55.89,300.81 56.78,313.87 57.67,329.43 58.56,329.11 59.46,321.58 60.35,325.50 61.24,325.50 62.13,329.41 63.02,329.41 63.91,329.41 64.80,333.32 65.69,333.32 66.58,329.41 67.47,333.32 68.37,329.41 69.26,329.41 70.15,333.32 71.04,333.32 71.93,329.41 72.82,329.41 73.71,333.32 74.60,333.32 75.49,333.32 76.39,337.24 77.28,333.32 78.17,333.32 79.06,333.32 79.95,333.32 80.84,333.32 81.73,337.24 82.62,333.32 83.51,333.32 84.40,337.24 85.30,333.32 86.19,337.24 87.08,337.24 87.97,333.32 88.86,333.32 89.75,337.24 90.64,337.24 91.53,337.24 92.42,337.24 93.31,337.24 94.20,341.15 95.10,337.24 95.99,337.24 96.88,337.24 97.77,341.15 98.66,337.24 99.55,341.15 100.44,337.24 101.33,337.24 102.22,341.15 103.12,337.24 104.01,337.24 104.90,341.15 105.79,333.32 106.68,341.15 107.57,337.24 108.46,337.24 109.35,345.06 110.24,337.24 111.13,341.15 112.03,341.15 112.92,341.15 113.81,341.15 114.70,341.15 115.59,341.15 116.48,341.15 117.37,345.06 118.26,337.24 119.15,345.06 120.04,345.06 120.94,341.15 121.83,341.15 122.72,341.15 123.61,341.15 124.50,345.06 125.39,341.15 126.28,341.15 127.17,341.15 128.06,341.15 128.95,341.15 129.84,345.06 130.74,337.24 131.63,341.15 132.52,341.15 133.41,341.15 134.30,345.06 135.19,345.06 136.08,345.06 136.97,345.06 137.86,345.06 138.75,345.06 139.65,345.06 140.54,341.15 141.43,345.06 142.32,345.06 143.21,348.97 144.10,345.06 144.99,345.06 145.88,345.06 146.77,348.97 147.66,345.06 148.56,345.06 149.45,345.06 150.34,345.06 151.23,345.06 152.12,345.06 153.01,348.97 153.90,345.06 154.79,345.06 155.68,345.06 156.57,345.06 157.47,345.06 158.36,345.06 159.25,345.06 160.14,345.06 161.03,345.06 161.92,345.06 162.81,345.06 163.70,345.06 164.59,345.06 165.49,345.06 166.38,345.06 167.27,341.15 168.16,345.06 169.05,345.06 169.94,345.06 170.83,345.06 171.72,345.06 172.61,348.97 173.50,348.97 174.39,345.06 175.29,348.97 176.18,345.06 177.07,345.06 177.96,345.06 178.85,345.06 179.74,345.06 180.63,348.97 181.52,348.97 182.41,348.97 183.31,348.97 184.20,352.89 185.09,348.97 185.98,348.97 186.87,345.06 187.76,348.97 188.65,348.97 189.54,348.97 190.43,348.97 191.32,352.89 192.21,348.97 193.11,345.06 194.00,348.97 194.89,348.97 195.78,348.97 196.67,345.06 197.56,348.97 198.45,348.97 199.34,348.97 200.23,348.97 201.12,348.97 202.02,348.97 202.91,348.97 203.80,348.97 204.69,348.97 205.58,348.97 206.47,348.97 207.36,348.97 208.25,348.97 209.14,352.89 210.03,352.89 210.93,352.89 211.82,348.97 212.71,348.97 213.60,348.97 214.49,352.89 215.38,348.97 216.27,352.89 217.16,352.89 218.05,352.89 218.94,352.89 219.84,352.89 220.73,348.97 221.62,348.97 222.51,352.89"/>
<polyline stroke="#00BA38" points="45.20,356.80 46.09,341.30 46.98,274.63 47.87,258.98 48.76,305.93 49.66,321.53 50.55,314.85 51.44,299.53 52.33,321.58 53.22,294.97 54.11,317.67 55.00,289.61 55.89,325.36 56.78,302.37 57.67,325.37 58.56,331.82 59.46,329.41 60.35,329.41 61.24,329.41 62.13,333.32 63.02,333.32 63.91,333.32 64.80,333.32 65.69,333.32 66.58,333.32 67.47,337.24 68.37,337.24 69.26,333.32 70.15,341.15 71.04,333.32 71.93,337.24 72.82,333.32 73.71,337.24 74.60,333.32 75.49,337.24 76.39,337.24 77.28,337.24 78.17,337.24 79.06,337.24 79.95,337.24 80.84,337.24 81.73,337.24 82.62,337.24 83.51,341.15 84.40,341.15 85.30,337.24 86.19,337.24 87.08,337.24 87.97,341.15 88.86,337.24 89.75,341.15 90.64,341.15 91.53,341.15 92.42,341.15 93.31,337.24 94.20,341.15 95.10,341.15 95.99,341.15 96.88,341.15 97.77,337.24 98.66,341.15 99.55,345.06 100.44,341.15 101.33,345.06 102.22,345.06 103.12,341.15 104.01,341.15 104.90,341.15 105.79,341.15 106.68,341.15 107.57,341.15 108.46,345.06 109.35,345.06 110.24,341.15 111.13,341.15 112.03,341.15 112.92,341.15 113.81,348.97 114.70,345.06 115.59,345.06 116.48,345.06 117.37,345.06 118.26,341.15 119.15,345.06 120.04,345.06 120.94,345.06 121.83,345.06 122.72,345.06 123.61,345.06 124.50,345.06 125.39,345.06 126.28,345.06 127.17,345.06 128.06,345.06 128.95,341.15 129.84,345.06 130.74,341.15 131.63,341.15 132.52,345.06 133.41,345.06 134.30,341.15 135.19,345.06 136.08,348.97 136.97,345.06 137.86,341.15 138.75,348.97 139.65,345.06 140.54,345.06 141.43,345.06 142.32,345.06 143.21,345.06 144.10,345.06 144.99,345.06 145.88,348.97 146.77,345.06 147.66,348.97 148.56,345.06 149.45,345.06 150.34,345.06 151.23,345.06 152.12,345.06 153.01,348.97 153.90,345.06 154.79,348.97 155.68,345.06 156.57,348.97 157.47,345.06 158.36,348.97 159.25,348.97 160.14,348.97 161.03,348.97 161.92,352.89 162.81,352.89 163.70,348.97 164.59,352.89 165.49,345.06 166.38,348.97 167.27,348.97 168.16,348.97 169.05,348.97 169.94,348.97 170.83,348.97 171.72,348.97 172.61,348.97 173.50,348.97 174.39,345.06 175.29,348.97 176.18,348.97 177.07,352.89 177.96,348.97 178.85,348.97 179.74,348.97 180.63,348.97 181.52,348.97 182.41,348.97 183.31,348.97 184.20,348.97 185.09,352.89 185.98,348.97 186.87,348.97 187.76,348.97 188.65,352.89 189.54,348.97 190.43,352.89 191.32,348.97 192.21,348.97 193.11,348.97 194.00,348.97 194.89,348.97 195.78,348.97 196.67,348.97 197.56,348.97 198.45,348.97 199.34,352.89 200.23,348.97 201.12,348.97 202.02,348.97 202.91,352.89 203.80,348.97 204.69,348.97 205.58,352.89 206.47,352.89 207.36,352.89 208.25,352.89 209.14,348.97 210.03,352.89 210.93,348.97 211.82,348.97 212.71,352.89 213.60,352.89 214.49,352.89 215.38,348.97 216.27,348.97 217.16,352.89 218.05,348.97 218.94,352.89 219.84,348.97 220.73,345.06 221.62,352.89 222.51,348.97"/>
<polyline stroke="#00C19F" points="45.20,352.88 46.09,350.98 46.98,343.35 47.87,346.80 48.76,344.39 49.66,346.12 50.55,330.28 51.44,331.75 52.33,327.33 53.22,326.66 54.11,326.43 55.00,333.36 55.89,335.96 56.78,330.71 57.67,334.99 58.56,329.30 59.46,341.15 60.35,337.24 61.24,341.15 62.13,345.06 63.02,345.06 63.91,345.06 64.80,345.06 65.69,345.06 66.58,348.97 67.47,345.06 68.37,345.06 69.26,348.97 70.15,348.97 71.04,352.89 71.93,348.97 72.82,348.97 73.71,352.89 74.60,352.89 75.49,348.97 76.39,352.89 77.28,348.97 78.17,352.89 79.06,352.89 79.95,348.97 80.84,348.97 81.73,348.97 82.62,345.06 83.51,348.97 84.40,348.97 85.30,348.97 86.19,348.97 87.08,352.89 87.97,345.06 88.86,348.97 89.75,348.97 90.64,348.97 91.53,348.97 92.42,352.89 93.31,348.97 94.20,348.97 95.10,348.97 95.99,352.89 96.88,348.97 97.77,352.89 98.66,352.89 99.55,348.97 100.44,345.06 101.33,348.97 102.22,352.89 103.12,348.97 104.01,352.89 104.90,352.89 105.79,345.06 106.68,348.97 107.57,352.89 108.46,352.89 109.35,348.97 110.24,348.97 111.13,352.89 112.03,348.97 112.92,352.89 113.81,352.89 114.70,348.97 115.59,352.89 116.48,352.89 117.37,352.89 118.26,348.97 119.15,352.89 120.04,348.97 120.94,348.97 121.83,348.97 122.72,348.97 123.61,352.89 124.50,352.89 125.39,352.89 126.28,348.97 127.17,345.06 128.06,352.89 128.95,352.89 129.84,348.97 130.74,348.97 131.63,348.97 132.52,348.97 133.41,352.89 134.30,348.97 135.19,348.97 136.08,345.06 136.97,348.97 137.86,348.97 138.75,348.97 139.65,348.97 140.54,348.97 141.43,352.89 142.32,348.97 143.21,348.97 144.10,352.89 144.99,352.89 145.88,348.97 146.77,348.97 147.66,348.97 148.56,348.97 149.45,352.89 150.34,352.89 151.23,352.89 152.12,352.89 153.01,352.89 153.90,352.89 154.79,348.97 155.68,352.89 156.57,352.89 157.47,337.24 158.36,348.97 159.25,348.97 160.14,352.89 161.03,348.97 161.92,352.89 162.81,352.89 163.70,348.97 164.59,348.97 165.49,348.97 166.38,348.97 167.27,348.97 168.16,352.89 169.05,352.89 169.94,348.97 170.83,352.89 171.72,348.97 172.61,352.89 173.50,352.89 174.39,352.89 175.29,348.97 176.18,348.97 177.07,352.89 177.96,348.97 178.85,348.97 179.74,352.89 180.63,352.89 181.52,352.89 182.41,348.97 183.31,352.89 184.20,352.89 185.09,352.89 185.98,352.89 186.87,348.97 187.76,352.89 188.65,352.89 189.54,348.97 190.43,352.89 191.32,352.89 192.21,352.89 193.11,352.89 194.00,352.89 194.89,352.89 195.78,352.89 196.67,352.89 197.56,352.89 198.45,352.89 199.34,352.89 200.23,352.89 201.12,352.89 202.02,348.97 202.91,348.97 203.80,352.89 204.69,348.97 205.58,352.89 206.47,352.89 207.36,352.89 208.25,352.89 209.14,348.97 210.03,352.89 210.93,352.89 211.82,352.89 212.71,352.89 213.60,348.97 214.49,352.89 215.38,352.89 216.27,352.89 217.16,352.89 218.05,352.89 218.94,352.89 219.84,352.89 220.73,352.89 221.62,352.89 222.51,348.97"/>
<polyline stroke="#00B9E3" points="45.20,356.80 46.09,349.86 46.98,344.34 47.87,341.33 48.76,320.79 49.66,325.95 50.55,315.03 51.44,311.21 52.33,315.68 53.22,281.08 54.11,314.99 55.00,311.82 55.89,333.33 56.78,329.86 57.67,330.08 58.56,331.47 59.46,329.41 60.35,333.32 61.24,337.24 62.13,337.24 63.02,341.15 63.91,341.15 64.80,341.15 65.69,341.15 66.58,341.15 67.47,341.15 68.37,345.06 69.26,341.15 70.15,341.15 71.04,337.24 71.93,345.06 72.82,341.15 73.71,341.15 74.60,341.15 75.49,345.06 76.39,348.97 77.28,341.15 78.17,345.06 79.06,345.06 79.95,345.06 80.84,345.06 81.73,345.06 82.62,341.15 83.51,341.15 84.40,345.06 85.30,341.15 86.19,345.06 87.08,345.06 87.97,345.06 88.86,345.06 89.75,345.06 90.64,345.06 91.53,345.06 92.42,345.06 93.31,345.06 94.20,341.15 95.10,345.06 95.99,345.06 96.88,345.06 97.77,345.06 98.66,348.97 99.55,341.15 100.44,345.06 101.33,348.97 102.22,345.06 103.12,341.15 104.01,345.06 104.90,348.97 105.79,348.97 106.68,345.06 107.57,348.97 108.46,345.06 109.35,348.97 110.24,341.15 111.13,348.97 112.03,345.06 112.92,348.97 113.81,348.97 114.70,345.06 115.59,345.06 116.48,348.97 117.37,345.06 118.26,345.06 119.15,348.97 120.04,348.97 120.94,348.97 121.83,348.97 122.72,348.97 123.61,348.97 124.50,348.97 125.39,348.97 126.28,348.97 127.17,348.97 128.06,348.97 128.95,348.97 129.84,348.97 130.74,345.06 131.63,345.06 132.52,345.06 133.41,348.97 134.30,345.06 135.19,348.97 136.08,348.97 136.97,348.97 137.86,348.97 138.75,345.06 139.65,348.97 140.54,348.97 141.43,348.97 142.32,348.97 143.21,348.97 144.10,345.06 144.99,348.97 145.88,348.97 146.77,348.97 147.66,348.97 148.56,348.97 149.45,348.97 150.34,352.89 151.23,348.97 152.12,345.06 153.01,348.97 153.90,348.97 154.79,348.97 155.68,348.97 156.57,348.97 157.47,348.97 158.36,352.89 159.25,348.97 160.14,348.97 161.03,352.89 161.92,348.97 162.81,348.97 163.70,352.89 164.59,348.97 165.49,348.97 166.38,348.97 167.27,348.97 168.16,352.89 169.05,352.89 169.94,348.97 170.83,348.97 171.72,348.97 172.61,348.97 173.50,345.06 174.39,352.89 175.29,348.97 176.18,352.89 177.07,348.97 177.96,348.97 178.85,352.89 179.74,348.97 180.63,348.97 181.52,348.97 182.41,348.97 183.31,352.89 184.20,352.89 185.09,348.97 185.98,348.97 186.87,352.89 187.76,352.89 188.65,345.06 189.54,348.97 190.43,348.97 191.32,352.89 192.21,352.89 193.11,348.97 194.00,352.89 194.89,348.97 195.78,348.97 196.67,348.97 197.56,352.89 198.45,352.89 199.34,352.89 200.23,348.97 201.12,352.89 202.02,352.89 202.91,348.97 203.80,348.97 204.69,348.97 205.58,352.89 206.47,352.89 207.36,352.89 208.25,348.97 209.14,352.89 210.03,352.89 210.93,352.89 211.82,348.97 212.71,348.97 213.60,352.89 214.49,352.89 215.38,348.97 216.27,348.97 217.16,348.97 218.05,348.97 218.94,352.89 219.84,352.89 220.73,348.97 221.62,352.89 222.51,352.89"/>
<polyline stroke="#619CFF" points="45.20,356.80 46.09,323.37 46.98,294.19 47.87,270.71 48.76,313.76 49.66,324.12 50.55,316.14 51.44,322.04 52.33,312.90 53.22,290.39 54.11,315.16 55.00,313.47 55.89,326.87 56.78,331.73 57.67,328.61 58.56,340.75 59.46,329.41 60.35,333.32 61.24,333.32 62.13,341.15 63.02,337.24 63.91,337.24 64.80,341.15 65.69,345.06 66.58,341.15 67.47,341.15 68.37,345.06 69.26,341.15 70.15,341.15 71.04,341.15 71.93,341.15 72.82,341.15 73.71,345.06 74.60,341.15 75.49,341.15 76.39,341.15 77.28,345.06 78.17,341.15 79.06,345.06 79.95,341.15 80.84,345.06 81.73,341.15 82.62,345.06 83.51,341.15 84.40,341.15 85.30,345.06 86.19,345.06 87.08,345.06 87.97,345.06 88.86,348.97 89.75,345.06 90.64,345.06 91.53,345.06 92.42,345.06 93.31,348.97 94.20,341.15 95.10,345.06 95.99,341.15 96.88,345.06 97.77,348.97 98.66,345.06 99.55,348.97 100.44,345.06 101.33,345.06 102.22,345.06 103.12,345.06 104.01,345.06 104.90,341.15 105.79,345.06 106.68,348.97 107.57,345.06 108.46,348.97 109.35,345.06 110.24,348.97 111.13,348.97 112.03,345.06 112.92,348.97 113.81,348.97 114.70,348.97 115.59,348.97 116.48,345.06 117.37,348.97 118.26,348.97 119.15,345.06 120.04,348.97 120.94,348.97 121.83,345.06 122.72,348.97 123.61,348.97 124.50,348.97 125.39,348.97 126.28,348.97 127.17,345.06 128.06,345.06 128.95,345.06 129.84,348.97 130.74,348.97 131.63,345.06 132.52,348.97 133.41,348.97 134.30,348.97 135.19,348.97 136.08,348.97 136.97,345.06 137.86,348.97 138.75,348.97 139.65,348.97 140.54,348.97 141.43,348.97 142.32,345.06 143.21,348.97 144.10,348.97 144.99,348.97 145.88,348.97 146.77,348.97 147.66,345.06 148.56,348.97 149.45,348.97 150.34,345.06 151.23,348.97 152.12,345.06 153.01,348.97 153.90,348.97 154.79,345.06 155.68,352.89 156.57,348.97 157.47,348.97 158.36,348.97 159.25,345.06 160.14,348.97 161.03,348.97 161.92,348.97 162.81,348.97 163.70,348.97 164.59,348.97 165.49,348.97 166.38,348.97 167.27,352.89 168.16,348.97 169.05,348.97 169.94,348.97 170.83,352.89 171.72,348.97 172.61,352.89 173.50,348.97 174.39,345.06 175.29,352.89 176.18,348.97 177.07,348.97 177.96,348.97 178.85,352.89 179.74,348.97 180.63,352.89 181.52,348.97 182.41,348.97 183.31,352.89 184.20,352.89 185.09,348.97 185.98,348.97 186.87,348.97 187.76,348.97 188.65,348.97 189.54,352.89 190.43,352.89 191.32,348.97 192.21,348.97 193.11,352.89 194.00,352.89 194.89,348.97 195.78,348.97 196.67,348.97 197.56,348.97 198.45,348.97 199.34,348.97 200.23,348.97 201.12,352.89 202.02,348.97 202.91,348.97 203.80,348.97 204.69,352.89 205.58,348.97 206.47,352.89 207.36,348.97 208.25,352.89 209.14,352.89 210.03,348.97 210.93,352.89 211.82,352.89 212.71,352.89 213.60,348.97 214.49,348.97 215.38,352.89 216.27,348.97 217.16,352.89 218.05,348.97 218.94,352.89 219.84,352.89 220.73,352.89 221.62,348.97 222.51,348.97"/>
<polyline stroke="#DB72FB" points="45.20,356.80 46.09,352.07 46.98,348.14 47.87,342.35 48.76,343.55 49.66,313.20 50.55,329.43 51.44,318.16 52.33,293.79 53.22,296.15 54.11,282.45 55.00,289.50 55.89,301.30 56.78,320.41 57.67,315.72 58.56,334.79 59.46,317.67 60.35,321.58 61.24,321.58 62.13,325.50 63.02,329.41 63.91,325.50 64.80,325.50 65.69,329.41 66.58,329.41 67.47,333.32 68.37,329.41 69.26,329.41 70.15,333.32 71.04,333.32 71.93,333.32 72.82,333.32 73.71,333.32 74.60,329.41 75.49,333.32 76.39,337.24 77.28,333.32 78.17,333.32 79.06,337.24 79.95,333.32 80.84,333.32 81.73,337.24 82.62,337.24 83.51,337.24 84.40,337.24 85.30,337.24 86.19,337.24 87.08,337.24 87.97,337.24 88.86,337.24 89.75,337.24 90.64,337.24 91.53,341.15 92.42,337.24 93.31,337.24 94.20,337.24 95.10,337.24 95.99,341.15 96.88,341.15 97.77,341.15 98.66,341.15 99.55,337.24 100.44,337.24 101.33,345.06 102.22,341.15 103.12,341.15 104.01,337.24 104.90,341.15 105.79,341.15 106.68,341.15 107.57,341.15 108.46,341.15 109.35,341.15 110.24,341.15 111.13,341.15 112.03,345.06 112.92,341.15 113.81,341.15 114.70,345.06 115.59,341.15 116.48,345.06 117.37,345.06 118.26,345.06 119.15,341.15 120.04,345.06 120.94,345.06 121.83,345.06 122.72,345.06 123.61,345.06 124.50,345.06 125.39,345.06 126.28,345.06 127.17,341.15 128.06,341.15 128.95,341.15 129.84,345.06 130.74,345.06 131.63,345.06 132.52,345.06 133.41,341.15 134.30,345.06 135.19,345.06 136.08,345.06 136.97,345.06 137.86,345.06 138.75,345.06 139.65,348.97 140.54,345.06 141.43,345.06 142.32,345.06 143.21,348.97 144.10,345.06 144.99,348.97 145.88,341.15 146.77,333.32 147.66,348.97 148.56,345.06 149.45,348.97 150.34,345.06 151.23,345.06 152.12,348.97 153.01,345.06 153.90,348.97 154.79,345.06 155.68,345.06 156.57,348.97 157.47,348.97 158.36,345.06 159.25,345.06 160.14,348.97 161.03,345.06 161.92,345.06 162.81,348.97 163.70,348.97 164.59,348.97 165.49,345.06 166.38,345.06 167.27,348.97 168.16,345.06 169.05,345.06 169.94,348.97 170.83,348.97 171.72,348.97 172.61,348.97 173.50,345.06 174.39,348.97 175.29,348.97 176.18,348.97 177.07,345.06 177.96,348.97 178.85,345.06 179.74,348.97 180.63,345.06 181.52,348.97 182.41,348.97 183.31,345.06 184.20,348.97 185.09,348.97 185.98,348.97 186.87,345.06 187.76,348.97 188.65,345.06 189.54,348.97 190.43,348.97 191.32,345.06 192.21,345.06 193.11,348.97 194.00,348.97 194.89,345.06 195.78,345.06 196.67,348.97 197.56,348.97 198.45,348.97 199.34,348.97 200.23,352.89 201.12,348.97 202.02,348.97 202.91,348.97 203.80,348.97 204.69,348.97 205.58,348.97 206.47,348.97 207.36,348.97 208.25,348.97 209.14,348.97 210.03,348.97 210.93,348.97 211.82,352.89 212.71,348.97 213.60,352.89 214.49,348.97 215.38,352.89 216.27,348.97 217.16,348.97 218.05,348.97 218.94,348.97 219.84,348.97 220.73,348.97 221.62,352.89 222.51,352.89"/>
<polyline stroke="#FF61C3" points="45.20,356.80 46.09,353.77 46.98,346.62 47.87,345.54 48.76,341.63 49.66,341.81 50.55,331.58 51.44,313.94 52.33,321.60 53.22,307.62 54.11,296.92 55.00,296.61 55.89,289.34 56.78,310.71 57.67,312.06 58.56,327.30 59.46,321.58 60.35,321.58 61.24,325.50 62.13,329.41 63.02,329.41 63.91,329.41 64.80,329.41 65.69,333.32 66.58,333.32 67.47,333.32 68.37,333.32 69.26,337.24 70.15,333.32 71.04,333.32 71.93,333.32 72.82,337.24 73.71,333.32 74.60,337.24 75.49,333.32 76.39,333.32 77.28,333.32 78.17,333.32 79.06,337.24 79.95,341.15 80.84,333.32 81.73,337.24 82.62,337.24 83.51,337.24 84.40,337.24 85.30,341.15 86.19,337.24 87.08,337.24 87.97,341.15 88.86,337.24 89.75,337.24 90.64,337.24 91.53,341.15 92.42,337.24 93.31,337.24 94.20,337.24 95.10,345.06 95.99,337.24 96.88,341.15 97.77,341.15 98.66,341.15 99.55,345.06 100.44,341.15 101.33,337.24 102.22,341.15 103.12,341.15 104.01,341.15 104.90,341.15 105.79,345.06 106.68,341.15 107.57,341.15 108.46,341.15 109.35,341.15 110.24,341.15 111.13,341.15 112.03,341.15 112.92,341.15 113.81,341.15 114.70,341.15 115.59,341.15 116.48,341.15 117.37,345.06 118.26,341.15 119.15,341.15 120.04,345.06 120.94,341.15 121.83,345.06 122.72,345.06 123.61,345.06 124.50,341.15 125.39,345.06 126.28,348.97 127.17,345.06 128.06,345.06 128.95,341.15 129.84,345.06 130.74,345.06 131.63,345.06 132.52,345.06 133.41,345.06 134.30,345.06 135.19,345.06 136.08,345.06 136.97,341.15 137.86,348.97 138.75,345.06 139.65,345.06 140.54,348.97 141.43,341.15 142.32,348.97 143.21,341.15 144.10,348.97 144.99,345.06 145.88,341.15 146.77,348.97 147.66,348.97 148.56,345.06 149.45,345.06 150.34,348.97 151.23,345.06 152.12,348.97 153.01,345.06 153.90,345.06 154.79,348.97 155.68,345.06 156.57,345.06 157.47,341.15 158.36,348.97 159.25,345.06 160.14,348.97 161.03,348.97 161.92,348.97 162.81,348.97 163.70,348.97 164.59,348.97 165.49,348.97 166.38,345.06 167.27,345.06 168.16,348.97 169.05,348.97 169.94,345.06 170.83,345.06 171.72,348.97 172.61,348.97 173.50,345.06 174.39,348.97 175.29,348.97 176.18,348.97 177.07,345.06 177.96,348.97 178.85,345.06 179.74,348.97 180.63,345.06 181.52,345.06 182.41,345.06 183.31,348.97 184.20,345.06 185.09,348.97 185.98,348.97 186.87,348.97 187.76,348.97 188.65,348.97 189.54,352.89 190.43,348.97 191.32,348.97 192.21,348.97 193.11,348.97 194.00,345.06 194.89,348.97 195.78,348.97 196.67,345.06 197.56,348.97 198.45,348.97 199.34,348.97 200.23,348.97 201.12,348.97 202.02,348.97 202.91,348.97 203.80,348.97 204.69,348.97 205.58,348.97 206.47,348.97 207.36,352.89 208.25,352.89 209.14,348.97 210.03,352.89 210.93,348.97 211.82,348.97 212.71,352.89 213.60,352.89 214.49,352.89 215.38,348.97 216.27,348.97 217.16,348.97 218.05,352.89 218.94,348.97 219.84,348.97 220.73,348.97 221.62,348.97 222.51,348.97"/>
</g>
<g stroke="#1c1c1c" stroke-width="1.15" fill="none">
<path d="M36.50 204.90V363.76H231.70" stroke-linecap="butt"/>
</g><g stroke="#1c1c1c" stroke-width="1.05" fill="none">
<path d="M45.20 364.26v3.6"/>
<path d="M89.75 364.26v3.6"/>
<path d="M134.30 364.26v3.6"/>
<path d="M178.85 364.26v3.6"/>
<path d="M223.40 364.26v3.6"/>
<path d="M36.00 356.80h-3.4"/>
<path d="M36.00 317.67h-3.4"/>
<path d="M36.00 278.54h-3.4"/>
<path d="M36.00 239.41h-3.4"/>
</g>
<g font-size="8.8" fill="#000" stroke="#000" stroke-width="0.22" stroke-linejoin="round">
<text x="45.30" y="376.36" text-anchor="middle" letter-spacing="0.2">0</text>
<text x="89.85" y="376.36" text-anchor="middle" letter-spacing="0.2">5000</text>
<text x="134.40" y="376.36" text-anchor="middle" letter-spacing="0.2">10000</text>
<text x="178.95" y="376.36" text-anchor="middle" letter-spacing="0.2">15000</text>
<text x="223.50" y="376.36" text-anchor="middle" letter-spacing="0.2">20000</text>
<text x="30.10" y="359.95" text-anchor="end">0.00</text>
<text x="30.10" y="320.82" text-anchor="end">0.01</text>
<text x="30.10" y="281.69" text-anchor="end">0.02</text>
<text x="30.10" y="242.56" text-anchor="end">0.03</text>
<text x="133.90" y="202.20" text-anchor="middle" font-size="8.95">gene length(bp)</text>
</g>
<g fill="none" stroke-width="1.15" stroke-linejoin="round" stroke-linecap="butt">
<polyline stroke="#F8766D" points="275.30,356.36 276.20,354.09 277.09,351.97 277.99,348.38 278.88,344.93 279.78,341.51 280.67,338.06 281.57,334.19 282.46,331.95 283.36,329.66 284.25,328.10 285.15,323.73 286.04,322.73 286.94,320.55 287.83,319.32 288.73,316.69 289.62,316.04 290.52,313.54 291.41,312.84 292.31,311.24 293.21,311.69 294.10,310.87 295.00,311.47 295.89,310.84 296.79,314.00 297.68,313.85 298.58,316.00 299.47,317.01 300.37,318.41 301.26,320.27 302.16,321.80 303.05,323.37 303.95,325.32 304.84,326.66 305.74,328.77 306.63,329.73 307.53,331.39 308.42,332.71 309.32,333.89 310.21,335.53 311.11,336.82 312.01,337.72 312.90,339.71 313.80,340.05 314.69,341.22 315.59,342.30 316.48,343.61 317.38,344.31 318.27,345.11 319.17,345.59 320.06,346.23 320.96,346.57 321.85,346.99 322.75,347.33 323.64,347.87 324.54,348.47 325.43,348.91 326.33,349.17 327.22,349.44 328.12,349.78 329.01,349.92 329.91,350.34 330.81,350.61 331.70,350.77 332.60,351.12 333.49,351.36 334.39,351.78 335.28,351.82 336.18,352.15 337.07,352.43 337.97,352.66 338.86,352.94 339.76,353.26 340.65,353.23 341.55,353.45 342.44,353.45 343.34,353.49 344.23,353.70 345.13,353.75 346.02,353.87 346.92,353.86 347.82,354.01 348.71,354.13 349.61,354.10 350.50,354.20 351.40,354.36 352.29,354.35 353.19,354.48 354.08,354.46 354.98,354.58 355.87,354.75 356.77,354.82 357.66,354.92 358.56,354.97 359.45,355.05 360.35,355.11 361.24,355.21 362.14,355.34 363.03,355.40 363.93,355.42 364.83,355.51 365.72,355.63 366.62,355.71 367.51,355.75 368.41,355.76 369.30,355.81 370.20,355.76 371.09,355.81 371.99,355.80 372.88,355.87 373.78,355.83 374.67,355.82 375.57,355.90 376.46,355.84 377.36,355.87 378.25,355.91 379.15,355.93 380.04,355.89 380.94,355.92 381.83,355.93 382.73,355.96 383.63,355.98 384.52,355.96 385.42,356.01 386.31,355.98 387.21,356.04 388.10,356.04 389.00,356.06 389.89,356.03 390.79,356.09 391.68,356.09 392.58,356.07 393.47,356.09 394.37,356.07 395.26,356.09 396.16,356.12 397.05,356.13 397.95,356.19 398.84,356.18 399.74,356.19 400.63,356.20 401.53,356.23 402.43,356.23 403.32,356.24 404.22,356.23 405.11,356.25 406.01,356.27 406.90,356.28 407.80,356.29 408.69,356.31 409.59,356.32 410.48,356.35 411.38,356.33 412.27,356.34 413.17,356.36 414.06,356.37 414.96,356.38 415.85,356.38 416.75,356.41 417.64,356.44 418.54,356.45 419.44,356.44 420.33,356.45 421.23,356.46 422.12,356.48 423.02,356.50 423.91,356.53 424.81,356.53 425.70,356.55 426.60,356.55 427.49,356.57 428.39,356.57 429.28,356.58 430.18,356.61 431.07,356.60 431.97,356.61 432.86,356.64 433.76,356.64 434.65,356.65 435.55,356.67 436.45,356.67 437.34,356.69 438.24,356.69 439.13,356.71 440.03,356.73 440.92,356.74 441.82,356.75 442.71,356.76 443.61,356.78 444.50,356.79 445.40,356.80 446.29,356.82 447.19,356.82 448.08,356.84 448.98,356.85 449.87,356.86 450.77,356.87 451.66,356.88 452.56,356.89 453.45,356.91"/>
<polyline stroke="#D39200" points="275.30,356.36 276.20,345.94 277.09,335.43 277.99,326.70 278.88,324.78 279.78,323.07 280.67,321.59 281.57,318.12 282.46,316.25 283.36,316.19 284.25,314.04 285.15,313.30 286.04,311.58 286.94,311.02 287.83,309.34 288.73,307.96 289.62,310.24 290.52,309.28 291.41,310.38 292.31,313.04 293.21,312.08 294.10,313.64 295.00,314.60 295.89,315.62 296.79,317.90 297.68,320.31 298.58,322.01 299.47,324.04 300.37,324.88 301.26,327.16 302.16,330.19 303.05,332.21 303.95,333.46 304.84,334.55 305.74,336.10 306.63,337.34 307.53,337.67 308.42,339.08 309.32,340.89 310.21,342.07 311.11,342.73 312.01,343.05 312.90,343.52 313.80,344.23 314.69,345.00 315.59,345.20 316.48,345.68 317.38,346.32 318.27,346.88 319.17,347.08 320.06,347.54 320.96,348.04 321.85,348.24 322.75,348.78 323.64,348.86 324.54,349.28 325.43,349.79 326.33,349.83 327.22,349.90 328.12,350.43 329.01,350.40 329.91,350.41 330.81,350.89 331.70,350.94 332.60,351.23 333.49,351.29 334.39,351.66 335.28,351.77 336.18,351.86 337.07,351.98 337.97,352.14 338.86,352.32 339.76,352.45 340.65,352.58 341.55,352.66 342.44,352.86 343.34,352.88 344.23,352.75 345.13,352.90 346.02,353.07 346.92,353.15 347.82,353.22 348.71,353.38 349.61,353.33 350.50,353.55 351.40,353.61 352.29,353.57 353.19,353.88 354.08,353.83 354.98,354.02 355.87,354.04 356.77,354.10 357.66,354.19 358.56,354.25 359.45,354.37 360.35,354.43 361.24,354.55 362.14,354.60 363.03,354.72 363.93,354.72 364.83,354.87 365.72,354.89 366.62,355.00 367.51,355.04 368.41,355.01 369.30,355.07 370.20,355.15 371.09,355.09 371.99,355.22 372.88,355.14 373.78,355.18 374.67,355.23 375.57,355.20 376.46,355.23 377.36,355.18 378.25,355.27 379.15,355.22 380.04,355.26 380.94,355.33 381.83,355.36 382.73,355.31 383.63,355.37 384.52,355.38 385.42,355.41 386.31,355.46 387.21,355.45 388.10,355.49 389.00,355.52 389.89,355.51 390.79,355.47 391.68,355.50 392.58,355.56 393.47,355.57 394.37,355.58 395.26,355.58 396.16,355.62 397.05,355.66 397.95,355.68 398.84,355.66 399.74,355.65 400.63,355.74 401.53,355.79 402.43,355.74 403.32,355.78 404.22,355.80 405.11,355.79 406.01,355.83 406.90,355.88 407.80,355.91 408.69,355.89 409.59,355.93 410.48,355.92 411.38,355.97 412.27,355.97 413.17,356.01 414.06,356.01 414.96,356.03 415.85,356.03 416.75,356.04 417.64,356.08 418.54,356.11 419.44,356.08 420.33,356.13 421.23,356.14 422.12,356.16 423.02,356.17 423.91,356.19 424.81,356.22 425.70,356.23 426.60,356.28 427.49,356.29 428.39,356.30 429.28,356.32 430.18,356.34 431.07,356.35 431.97,356.38 432.86,356.40 433.76,356.43 434.65,356.42 435.55,356.44 436.45,356.48 437.34,356.48 438.24,356.50 439.13,356.52 440.03,356.56 440.92,356.58 441.82,356.59 442.71,356.58 443.61,356.63 444.50,356.64 445.40,356.67 446.29,356.68 447.19,356.69 448.08,356.73 448.98,356.75 449.87,356.74 450.77,356.77 451.66,356.79 452.56,356.80 453.45,356.81"/>
<polyline stroke="#93AA00" points="275.30,357.13 276.20,290.33 277.09,212.94 277.99,233.26 278.88,268.22 279.78,293.46 280.67,313.73 281.57,322.35 282.46,330.16 283.36,336.15 284.25,338.47 285.15,341.93 286.04,343.70 286.94,344.54 287.83,344.52 288.73,345.11 289.62,345.21 290.52,345.29 291.41,345.59 292.31,345.87 293.21,346.42 294.10,346.70 295.00,347.00 295.89,347.25 296.79,347.63 297.68,347.61 298.58,347.92 299.47,348.00 300.37,348.29 301.26,348.47 302.16,348.85 303.05,349.00 303.95,349.30 304.84,349.38 305.74,349.56 306.63,349.65 307.53,350.08 308.42,349.79 309.32,350.34 310.21,350.40 311.11,350.51 312.01,350.81 312.90,350.52 313.80,350.28 314.69,350.62 315.59,350.23 316.48,350.35 317.38,350.24 318.27,350.11 319.17,350.27 320.06,349.99 320.96,350.02 321.85,349.97 322.75,349.75 323.64,349.37 324.54,349.67 325.43,349.60 326.33,349.69 327.22,349.80 328.12,349.71 329.01,349.60 329.91,349.77 330.81,349.72 331.70,349.88 332.60,349.60 333.49,350.09 334.39,349.87 335.28,349.90 336.18,349.96 337.07,350.14 337.97,350.17 338.86,350.10 339.76,350.09 340.65,350.27 341.55,350.30 342.44,350.18 343.34,350.18 344.23,350.39 345.13,350.45 346.02,350.50 346.92,350.22 347.82,350.47 348.71,350.57 349.61,350.52 350.50,350.44 351.40,350.60 352.29,350.90 353.19,350.81 354.08,350.89 354.98,350.93 355.87,351.06 356.77,351.03 357.66,351.14 358.56,351.06 359.45,351.13 360.35,351.31 361.24,351.39 362.14,351.32 363.03,351.27 363.93,351.33 364.83,351.43 365.72,351.76 366.62,351.56 367.51,351.62 368.41,351.63 369.30,351.74 370.20,351.71 371.09,351.77 371.99,351.52 372.88,351.73 373.78,351.84 374.67,351.87 375.57,351.91 376.46,351.93 377.36,352.01 378.25,352.02 379.15,351.97 380.04,352.03 380.94,352.11 381.83,352.07 382.73,352.19 383.63,352.32 384.52,352.42 385.42,352.37 386.31,352.37 387.21,352.37 388.10,352.36 389.00,352.52 389.89,352.57 390.79,352.50 391.68,352.51 392.58,352.66 393.47,352.64 394.37,352.61 395.26,352.72 396.16,352.78 397.05,352.96 397.95,352.77 398.84,352.85 399.74,352.93 400.63,353.00 401.53,353.09 402.43,353.05 403.32,353.09 404.22,353.06 405.11,353.24 406.01,353.11 406.90,353.24 407.80,353.21 408.69,353.37 409.59,353.33 410.48,353.32 411.38,353.42 412.27,353.55 413.17,353.53 414.06,353.51 414.96,353.66 415.85,353.70 416.75,353.65 417.64,353.75 418.54,353.70 419.44,353.84 420.33,353.91 421.23,353.89 422.12,353.81 423.02,353.97 423.91,353.97 424.81,353.99 425.70,354.09 426.60,354.03 427.49,354.11 428.39,354.14 429.28,354.27 430.18,354.31 431.07,354.39 431.97,354.32 432.86,354.36 433.76,354.35 434.65,354.36 435.55,354.47 436.45,354.51 437.34,354.52 438.24,354.51 439.13,354.65 440.03,354.63 440.92,354.70 441.82,354.74 442.71,354.74 443.61,354.83 444.50,354.88 445.40,354.86 446.29,354.92 447.19,354.97 448.08,355.00 448.98,355.02 449.87,355.08 450.77,355.09 451.66,355.14 452.56,355.14 453.45,355.16"/>
<polyline stroke="#00BA38" points="275.30,354.99 276.20,330.51 277.09,319.13 277.99,323.72 278.88,326.32 279.78,331.78 280.67,332.47 281.57,331.94 282.46,332.73 283.36,330.99 284.25,329.27 285.15,327.99 286.04,326.59 286.94,324.70 287.83,322.22 288.73,320.94 289.62,320.44 290.52,319.63 291.41,319.79 292.31,317.61 293.21,316.95 294.10,317.38 295.00,317.41 295.89,318.46 296.79,319.46 297.68,320.53 298.58,321.16 299.47,322.25 300.37,322.63 301.26,323.80 302.16,324.94 303.05,326.30 303.95,327.52 304.84,327.57 305.74,330.22 306.63,329.94 307.53,331.27 308.42,332.36 309.32,333.55 310.21,334.42 311.11,335.69 312.01,336.64 312.90,337.15 313.80,338.50 314.69,338.70 315.59,339.55 316.48,341.61 317.38,342.03 318.27,342.41 319.17,342.96 320.06,343.52 320.96,344.00 321.85,344.48 322.75,345.00 323.64,345.38 324.54,346.23 325.43,346.60 326.33,347.25 327.22,347.29 328.12,347.72 329.01,347.61 329.91,347.76 330.81,348.27 331.70,348.78 332.60,348.90 333.49,349.15 334.39,349.40 335.28,349.57 336.18,349.85 337.07,350.51 337.97,350.36 338.86,350.81 339.76,351.09 340.65,351.03 341.55,351.28 342.44,351.48 343.34,351.57 344.23,351.54 345.13,351.57 346.02,351.62 346.92,351.85 347.82,351.97 348.71,351.90 349.61,352.16 350.50,352.11 351.40,352.30 352.29,352.40 353.19,352.53 354.08,352.59 354.98,352.74 355.87,352.85 356.77,352.91 357.66,353.03 358.56,353.07 359.45,353.18 360.35,353.30 361.24,353.39 362.14,353.49 363.03,353.47 363.93,353.67 364.83,353.79 365.72,353.87 366.62,353.92 367.51,354.02 368.41,354.03 369.30,354.06 370.20,354.06 371.09,354.07 371.99,354.09 372.88,354.20 373.78,354.20 374.67,354.29 375.57,354.15 376.46,354.16 377.36,354.17 378.25,354.24 379.15,354.22 380.04,354.29 380.94,354.31 381.83,354.39 382.73,354.38 383.63,354.39 384.52,354.35 385.42,354.34 386.31,354.45 387.21,354.43 388.10,354.46 389.00,354.52 389.89,354.58 390.79,354.56 391.68,354.61 392.58,354.58 393.47,354.59 394.37,354.61 395.26,354.63 396.16,354.63 397.05,354.70 397.95,354.65 398.84,354.77 399.74,354.73 400.63,354.73 401.53,354.80 402.43,354.85 403.32,354.78 404.22,354.85 405.11,354.82 406.01,354.84 406.90,354.89 407.80,354.91 408.69,354.89 409.59,354.94 410.48,355.00 411.38,354.98 412.27,354.99 413.17,355.02 414.06,355.04 414.96,355.07 415.85,355.09 416.75,355.14 417.64,355.17 418.54,355.11 419.44,355.19 420.33,355.18 421.23,355.25 422.12,355.22 423.02,355.27 423.91,355.18 424.81,355.32 425.70,355.34 426.60,355.30 427.49,355.32 428.39,355.43 429.28,355.38 430.18,355.38 431.07,355.46 431.97,355.43 432.86,355.48 433.76,355.52 434.65,355.52 435.55,355.54 436.45,355.58 437.34,355.51 438.24,355.60 439.13,355.63 440.03,355.61 440.92,355.65 441.82,355.64 442.71,355.70 443.61,355.70 444.50,355.73 445.40,355.75 446.29,355.77 447.19,355.79 448.08,355.77 448.98,355.84 449.87,355.86 450.77,355.88 451.66,355.88 452.56,355.90 453.45,355.90"/>
<polyline stroke="#00C19F" points="275.30,355.07 276.20,330.32 277.09,317.64 277.99,317.93 278.88,320.04 279.78,326.65 280.67,331.21 281.57,332.87 282.46,335.02 283.36,336.18 284.25,337.31 285.15,339.47 286.04,339.76 286.94,340.52 287.83,341.21 288.73,341.77 289.62,342.19 290.52,342.27 291.41,342.56 292.31,343.07 293.21,342.89 294.10,343.31 295.00,343.61 295.89,343.56 296.79,344.01 297.68,344.32 298.58,343.94 299.47,344.73 300.37,344.46 301.26,345.03 302.16,344.93 303.05,345.15 303.95,345.41 304.84,345.95 305.74,345.83 306.63,346.06 307.53,346.44 308.42,346.54 309.32,346.62 310.21,347.12 311.11,347.22 312.01,347.66 312.90,347.68 313.80,347.89 314.69,347.88 315.59,348.25 316.48,348.42 317.38,348.39 318.27,348.80 319.17,348.64 320.06,348.94 320.96,349.05 321.85,348.94 322.75,349.14 323.64,349.11 324.54,349.54 325.43,349.44 326.33,349.63 327.22,349.70 328.12,349.98 329.01,349.77 329.91,349.95 330.81,350.17 331.70,350.31 332.60,350.36 333.49,350.23 334.39,350.48 335.28,350.60 336.18,350.62 337.07,350.77 337.97,350.84 338.86,350.90 339.76,351.04 340.65,351.05 341.55,351.28 342.44,351.22 343.34,351.30 344.23,351.31 345.13,351.37 346.02,351.47 346.92,351.50 347.82,351.44 348.71,351.61 349.61,351.72 350.50,351.61 351.40,351.63 352.29,351.78 353.19,351.80 354.08,351.92 354.98,351.92 355.87,351.87 356.77,351.94 357.66,352.04 358.56,352.12 359.45,352.27 360.35,352.18 361.24,352.21 362.14,352.22 363.03,352.20 363.93,352.37 364.83,352.38 365.72,352.57 366.62,352.46 367.51,352.52 368.41,352.52 369.30,352.59 370.20,352.64 371.09,352.60 371.99,352.78 372.88,352.72 373.78,352.72 374.67,352.87 375.57,352.93 376.46,352.85 377.36,352.90 378.25,352.90 379.15,352.93 380.04,353.05 380.94,353.01 381.83,352.99 382.73,353.12 383.63,353.14 384.52,353.22 385.42,353.14 386.31,353.10 387.21,353.33 388.10,353.23 389.00,353.25 389.89,353.37 390.79,353.39 391.68,353.46 392.58,353.47 393.47,353.45 394.37,353.45 395.26,353.51 396.16,353.50 397.05,353.57 397.95,353.67 398.84,353.56 399.74,353.61 400.63,353.74 401.53,353.64 402.43,353.74 403.32,353.78 404.22,353.72 405.11,353.98 406.01,353.96 406.90,353.88 407.80,353.95 408.69,354.02 409.59,353.93 410.48,354.01 411.38,354.12 412.27,354.12 413.17,354.08 414.06,354.07 414.96,354.27 415.85,354.20 416.75,354.26 417.64,354.35 418.54,354.31 419.44,354.40 420.33,354.39 421.23,354.33 422.12,354.41 423.02,354.42 423.91,354.46 424.81,354.50 425.70,354.51 426.60,354.62 427.49,354.62 428.39,354.61 429.28,354.70 430.18,354.72 431.07,354.68 431.97,354.70 432.86,354.81 433.76,354.85 434.65,354.83 435.55,354.87 436.45,354.93 437.34,354.92 438.24,354.95 439.13,355.00 440.03,354.94 440.92,355.02 441.82,355.07 442.71,355.09 443.61,355.06 444.50,355.15 445.40,355.24 446.29,355.24 447.19,355.27 448.08,355.32 448.98,355.33 449.87,355.36 450.77,355.40 451.66,355.44 452.56,355.43 453.45,355.51"/>
<polyline stroke="#00B9E3" points="275.30,356.35 276.20,355.12 277.09,353.86 277.99,352.79 278.88,350.12 279.78,346.59 280.67,342.53 281.57,338.28 282.46,335.94 283.36,333.19 284.25,331.22 285.15,327.82 286.04,325.04 286.94,323.19 287.83,322.05 288.73,320.16 289.62,318.41 290.52,317.74 291.41,317.25 292.31,315.09 293.21,316.25 294.10,314.75 295.00,316.49 295.89,316.70 296.79,318.95 297.68,319.32 298.58,320.46 299.47,321.88 300.37,322.83 301.26,324.59 302.16,325.48 303.05,326.85 303.95,327.58 304.84,329.17 305.74,330.71 306.63,331.30 307.53,332.21 308.42,333.50 309.32,333.74 310.21,335.07 311.11,335.88 312.01,337.23 312.90,337.97 313.80,338.44 314.69,339.94 315.59,340.33 316.48,341.26 317.38,342.25 318.27,342.87 319.17,343.59 320.06,343.81 320.96,344.57 321.85,345.05 322.75,345.06 323.64,345.90 324.54,346.61 325.43,346.57 326.33,347.08 327.22,347.72 328.12,347.45 329.01,347.56 329.91,347.88 330.81,347.94 331.70,348.43 332.60,348.58 333.49,349.02 334.39,349.12 335.28,349.20 336.18,349.56 337.07,349.84 337.97,350.31 338.86,350.38 339.76,350.71 340.65,350.63 341.55,350.86 342.44,350.84 343.34,351.05 344.23,350.87 345.13,351.24 346.02,351.20 346.92,351.07 347.82,351.37 348.71,351.55 349.61,351.51 350.50,351.57 351.40,351.66 352.29,351.98 353.19,351.89 354.08,352.16 354.98,351.93 355.87,352.16 356.77,352.28 357.66,352.29 358.56,352.39 359.45,352.59 360.35,352.48 361.24,352.70 362.14,352.88 363.03,352.76 363.93,352.84 364.83,352.94 365.72,353.08 366.62,353.25 367.51,353.19 368.41,353.16 369.30,353.25 370.20,353.23 371.09,353.39 371.99,353.31 372.88,353.35 373.78,353.51 374.67,353.54 375.57,353.52 376.46,353.50 377.36,353.50 378.25,353.57 379.15,353.58 380.04,353.61 380.94,353.62 381.83,353.62 382.73,353.65 383.63,353.71 384.52,353.72 385.42,353.78 386.31,353.74 387.21,353.84 388.10,353.75 389.00,353.86 389.89,353.87 390.79,353.95 391.68,353.95 392.58,353.96 393.47,353.99 394.37,354.04 395.26,354.10 396.16,354.06 397.05,354.08 397.95,354.09 398.84,354.08 399.74,354.18 400.63,354.29 401.53,354.23 402.43,354.33 403.32,354.33 404.22,354.25 405.11,354.30 406.01,354.38 406.90,354.40 407.80,354.40 408.69,354.50 409.59,354.43 410.48,354.49 411.38,354.43 412.27,354.57 413.17,354.51 414.06,354.61 414.96,354.56 415.85,354.67 416.75,354.63 417.64,354.70 418.54,354.74 419.44,354.74 420.33,354.74 421.23,354.77 422.12,354.75 423.02,354.81 423.91,354.96 424.81,354.90 425.70,354.98 426.60,354.95 427.49,354.94 428.39,355.03 429.28,355.05 430.18,355.04 431.07,355.08 431.97,355.04 432.86,355.11 433.76,355.13 434.65,355.11 435.55,355.21 436.45,355.22 437.34,355.28 438.24,355.26 439.13,355.27 440.03,355.28 440.92,355.35 441.82,355.39 442.71,355.42 443.61,355.46 444.50,355.45 445.40,355.44 446.29,355.56 447.19,355.58 448.08,355.52 448.98,355.62 449.87,355.60 450.77,355.66 451.66,355.64 452.56,355.66 453.45,355.69"/>
<polyline stroke="#619CFF" points="275.30,356.35 276.20,355.62 277.09,354.85 277.99,354.04 278.88,352.67 279.78,350.50 280.67,348.22 281.57,345.85 282.46,343.76 283.36,341.60 284.25,339.69 285.15,337.24 286.04,335.48 286.94,334.03 287.83,332.81 288.73,331.24 289.62,330.62 290.52,328.32 291.41,328.17 292.31,327.45 293.21,326.70 294.10,326.95 295.00,327.56 295.89,328.23 296.79,328.87 297.68,329.93 298.58,329.61 299.47,330.32 300.37,330.87 301.26,330.36 302.16,332.55 303.05,332.37 303.95,332.50 304.84,333.15 305.74,333.75 306.63,335.29 307.53,335.86 308.42,336.04 309.32,337.01 310.21,337.11 311.11,338.20 312.01,338.83 312.90,339.39 313.80,340.20 314.69,340.72 315.59,341.53 316.48,342.00 317.38,342.72 318.27,343.10 319.17,343.81 320.06,344.17 320.96,344.14 321.85,344.54 322.75,345.12 323.64,345.34 324.54,345.84 325.43,345.65 326.33,346.48 327.22,346.17 328.12,346.80 329.01,346.83 329.91,347.16 330.81,347.40 331.70,347.44 332.60,347.68 333.49,348.06 334.39,348.37 335.28,348.20 336.18,348.52 337.07,348.90 337.97,349.18 338.86,349.34 339.76,349.59 340.65,349.60 341.55,349.95 342.44,349.95 343.34,350.15 344.23,350.04 345.13,350.10 346.02,350.41 346.92,350.46 347.82,350.48 348.71,350.76 349.61,350.93 350.50,350.86 351.40,351.02 352.29,351.20 353.19,351.16 354.08,351.38 354.98,351.67 355.87,351.59 356.77,351.74 357.66,351.69 358.56,351.96 359.45,352.08 360.35,352.15 361.24,352.27 362.14,352.50 363.03,352.50 363.93,352.65 364.83,352.64 365.72,352.69 366.62,353.03 367.51,353.08 368.41,353.10 369.30,353.12 370.20,353.15 371.09,353.13 371.99,353.09 372.88,353.27 373.78,353.31 374.67,353.35 375.57,353.21 376.46,353.22 377.36,353.42 378.25,353.45 379.15,353.38 380.04,353.35 380.94,353.38 381.83,353.46 382.73,353.46 383.63,353.51 384.52,353.58 385.42,353.47 386.31,353.61 387.21,353.70 388.10,353.69 389.00,353.77 389.89,353.72 390.79,353.69 391.68,353.84 392.58,353.75 393.47,353.72 394.37,353.84 395.26,353.95 396.16,353.96 397.05,353.96 397.95,354.03 398.84,354.06 399.74,354.04 400.63,354.06 401.53,354.06 402.43,354.17 403.32,354.05 404.22,354.12 405.11,354.15 406.01,354.25 406.90,354.17 407.80,354.30 408.69,354.23 409.59,354.29 410.48,354.40 411.38,354.41 412.27,354.34 413.17,354.41 414.06,354.48 414.96,354.50 415.85,354.52 416.75,354.59 417.64,354.60 418.54,354.64 419.44,354.66 420.33,354.65 421.23,354.74 422.12,354.70 423.02,354.75 423.91,354.76 424.81,354.78 425.70,354.79 426.60,354.85 427.49,354.87 428.39,354.93 429.28,354.93 430.18,355.01 431.07,355.02 431.97,355.01 432.86,355.07 433.76,355.08 434.65,355.15 435.55,355.10 436.45,355.19 437.34,355.19 438.24,355.23 439.13,355.23 440.03,355.30 440.92,355.35 441.82,355.40 442.71,355.38 443.61,355.43 444.50,355.41 445.40,355.42 446.29,355.54 447.19,355.55 448.08,355.53 448.98,355.54 449.87,355.59 450.77,355.62 451.66,355.64 452.56,355.67 453.45,355.65"/>
<polyline stroke="#DB72FB" points="275.30,356.36 276.20,345.83 277.09,335.01 277.99,316.80 278.88,299.71 279.78,308.16 280.67,312.06 281.57,315.65 282.46,315.70 283.36,317.28 284.25,318.61 285.15,319.29 286.04,319.70 286.94,319.10 287.83,320.68 288.73,320.56 289.62,321.65 290.52,323.58 291.41,322.81 292.31,323.98 293.21,324.77 294.10,325.98 295.00,326.01 295.89,328.89 296.79,329.82 297.68,330.47 298.58,332.04 299.47,334.05 300.37,334.47 301.26,335.59 302.16,336.48 303.05,337.18 303.95,338.57 304.84,339.48 305.74,339.95 306.63,341.33 307.53,341.51 308.42,341.87 309.32,342.80 310.21,343.21 311.11,343.90 312.01,344.15 312.90,344.85 313.80,345.14 314.69,345.66 315.59,346.24 316.48,346.62 317.38,346.83 318.27,347.17 319.17,347.67 320.06,347.65 320.96,348.09 321.85,348.33 322.75,348.92 323.64,348.95 324.54,349.12 325.43,349.59 326.33,350.00 327.22,350.02 328.12,350.21 329.01,350.35 329.91,350.58 330.81,350.69 331.70,350.96 332.60,351.07 333.49,351.33 334.39,351.44 335.28,351.54 336.18,351.85 337.07,351.93 337.97,352.23 338.86,352.37 339.76,352.54 340.65,352.55 341.55,352.78 342.44,352.74 343.34,353.02 344.23,353.03 345.13,353.06 346.02,353.17 346.92,353.37 347.82,353.48 348.71,353.45 349.61,353.67 350.50,353.66 351.40,353.82 352.29,353.89 353.19,353.87 354.08,354.00 354.98,354.14 355.87,354.33 356.77,354.35 357.66,354.46 358.56,354.57 359.45,354.60 360.35,354.82 361.24,354.84 362.14,354.94 363.03,355.07 363.93,355.08 364.83,355.28 365.72,355.33 366.62,355.43 367.51,355.54 368.41,355.53 369.30,355.53 370.20,355.50 371.09,355.51 371.99,355.53 372.88,355.55 373.78,355.63 374.67,355.58 375.57,355.62 376.46,355.59 377.36,355.60 378.25,355.59 379.15,355.64 380.04,355.65 380.94,355.71 381.83,355.70 382.73,355.74 383.63,355.71 384.52,355.77 385.42,355.76 386.31,355.79 387.21,355.79 388.10,355.79 389.00,355.82 389.89,355.82 390.79,355.86 391.68,355.82 392.58,355.88 393.47,355.86 394.37,355.85 395.26,355.96 396.16,355.94 397.05,355.94 397.95,355.93 398.84,355.98 399.74,355.97 400.63,356.01 401.53,356.00 402.43,356.05 403.32,356.02 404.22,356.11 405.11,356.10 406.01,356.05 406.90,356.09 407.80,356.12 408.69,356.08 409.59,356.12 410.48,356.13 411.38,356.17 412.27,356.17 413.17,356.18 414.06,356.23 414.96,356.21 415.85,356.24 416.75,356.23 417.64,356.24 418.54,356.28 419.44,356.30 420.33,356.30 421.23,356.31 422.12,356.34 423.02,356.35 423.91,356.35 424.81,356.37 425.70,356.37 426.60,356.40 427.49,356.43 428.39,356.45 429.28,356.43 430.18,356.46 431.07,356.47 431.97,356.49 432.86,356.52 433.76,356.52 434.65,356.56 435.55,356.54 436.45,356.56 437.34,356.55 438.24,356.58 439.13,356.60 440.03,356.61 440.92,356.62 441.82,356.65 442.71,356.65 443.61,356.67 444.50,356.66 445.40,356.69 446.29,356.73 447.19,356.72 448.08,356.72 448.98,356.76 449.87,356.74 450.77,356.78 451.66,356.79 452.56,356.81 453.45,356.81"/>
<polyline stroke="#FF61C3" points="275.30,355.50 276.20,355.50 277.09,355.53 277.99,355.44 278.88,355.50 279.78,355.46 280.67,355.46 281.57,355.22 282.46,351.90 283.36,348.61 284.25,344.06 285.15,338.57 286.04,333.37 286.94,329.37 287.83,325.11 288.73,320.48 289.62,316.94 290.52,313.25 291.41,310.28 292.31,308.25 293.21,305.07 294.10,307.50 295.00,308.56 295.89,311.06 296.79,312.84 297.68,315.30 298.58,317.14 299.47,318.03 300.37,321.83 301.26,320.71 302.16,320.60 303.05,319.26 303.95,320.89 304.84,325.79 305.74,329.22 306.63,329.23 307.53,330.78 308.42,333.20 309.32,334.18 310.21,335.64 311.11,337.64 312.01,337.69 312.90,338.75 313.80,339.79 314.69,341.11 315.59,341.99 316.48,342.95 317.38,343.69 318.27,344.81 319.17,344.80 320.06,345.45 320.96,346.35 321.85,346.14 322.75,346.85 323.64,347.41 324.54,347.76 325.43,348.45 326.33,348.40 327.22,348.98 328.12,349.01 329.01,348.94 329.91,349.18 330.81,349.60 331.70,349.90 332.60,349.91 333.49,350.25 334.39,350.45 335.28,350.64 336.18,351.04 337.07,351.08 337.97,351.58 338.86,351.48 339.76,351.97 340.65,352.03 341.55,352.15 342.44,352.16 343.34,352.28 344.23,352.43 345.13,352.53 346.02,352.66 346.92,352.82 347.82,353.06 348.71,353.20 349.61,353.31 350.50,353.29 351.40,353.42 352.29,353.53 353.19,353.63 354.08,353.77 354.98,353.93 355.87,354.07 356.77,354.21 357.66,354.18 358.56,354.31 359.45,354.53 360.35,354.60 361.24,354.69 362.14,354.77 363.03,354.97 363.93,355.06 364.83,355.15 365.72,355.36 366.62,355.44 367.51,355.48 368.41,355.51 369.30,355.45 370.20,355.50 371.09,355.53 371.99,355.58 372.88,355.54 373.78,355.57 374.67,355.61 375.57,355.62 376.46,355.66 377.36,355.64 378.25,355.64 379.15,355.65 380.04,355.67 380.94,355.68 381.83,355.73 382.73,355.74 383.63,355.72 384.52,355.75 385.42,355.80 386.31,355.78 387.21,355.79 388.10,355.81 389.00,355.83 389.89,355.86 390.79,355.86 391.68,355.84 392.58,355.89 393.47,355.93 394.37,355.92 395.26,355.97 396.16,355.95 397.05,355.98 397.95,355.97 398.84,356.00 399.74,356.00 400.63,355.99 401.53,356.05 402.43,356.08 403.32,356.07 404.22,356.09 405.11,356.10 406.01,356.13 406.90,356.13 407.80,356.15 408.69,356.20 409.59,356.18 410.48,356.19 411.38,356.19 412.27,356.23 413.17,356.25 414.06,356.24 414.96,356.28 415.85,356.28 416.75,356.29 417.64,356.30 418.54,356.33 419.44,356.36 420.33,356.34 421.23,356.38 422.12,356.40 423.02,356.38 423.91,356.41 424.81,356.45 425.70,356.45 426.60,356.47 427.49,356.49 428.39,356.52 429.28,356.50 430.18,356.51 431.07,356.54 431.97,356.56 432.86,356.57 433.76,356.58 434.65,356.61 435.55,356.62 436.45,356.63 437.34,356.64 438.24,356.65 439.13,356.68 440.03,356.69 440.92,356.69 441.82,356.73 442.71,356.73 443.61,356.75 444.50,356.75 445.40,356.78 446.29,356.79 447.19,356.81 448.08,356.82 448.98,356.83 449.87,356.85 450.77,356.87 451.66,356.87 452.56,356.90 453.45,356.91"/>
</g>
<g stroke="#1c1c1c" stroke-width="1.15" fill="none">
<path d="M266.50 204.90V363.76H461.80" stroke-linecap="butt"/>
</g><g stroke="#1c1c1c" stroke-width="1.05" fill="none">
<path d="M275.30 364.26v3.6"/>
<path d="M311.11 364.26v3.6"/>
<path d="M346.92 364.26v3.6"/>
<path d="M382.73 364.26v3.6"/>
<path d="M418.54 364.26v3.6"/>
<path d="M454.35 364.26v3.6"/>
<path d="M266.00 357.26h-3.4"/>
<path d="M266.00 312.51h-3.4"/>
<path d="M266.00 267.76h-3.4"/>
<path d="M266.00 223.01h-3.4"/>
</g>
<g font-size="8.8" fill="#000" stroke="#000" stroke-width="0.22" stroke-linejoin="round">
<text x="275.40" y="376.36" text-anchor="middle" letter-spacing="0.2">0</text>
<text x="311.21" y="376.36" text-anchor="middle" letter-spacing="0.2">1000</text>
<text x="347.02" y="376.36" text-anchor="middle" letter-spacing="0.2">2000</text>
<text x="382.83" y="376.36" text-anchor="middle" letter-spacing="0.2">3000</text>
<text x="418.64" y="376.36" text-anchor="middle" letter-spacing="0.2">4000</text>
<text x="454.45" y="376.36" text-anchor="middle" letter-spacing="0.2">5000</text>
<text x="260.10" y="360.41" text-anchor="end">0.0</text>
<text x="260.10" y="315.66" text-anchor="end">0.1</text>
<text x="260.10" y="270.91" text-anchor="end">0.2</text>
<text x="260.10" y="226.16" text-anchor="end">0.3</text>
<text x="364.10" y="202.20" text-anchor="middle" font-size="8.95">intron length(bp)</text>
</g>
<text transform="translate(10.3,188.7) rotate(-90)" font-size="11.15" text-anchor="middle" fill="#000" stroke="#000" stroke-width="0.2">Percentage (%)</text>
<text x="625.9" y="222.4" font-size="8.8" font-weight="bold" fill="#000" stroke="#000" stroke-width="0.15">Species</text>
<rect x="625.5" y="226.10" width="14.1" height="14.06" fill="#fff" stroke="#c4c4c4" stroke-width="0.9"/>
<path d="M626.9 233.13H638.3" stroke="#F8766D" stroke-width="1.3"/>
<text x="641.8" y="236.13" font-size="8.8" fill="#000" stroke="#000" stroke-width="0.22">Ajap</text>
<rect x="625.5" y="240.16" width="14.1" height="14.06" fill="#fff" stroke="#c4c4c4" stroke-width="0.9"/>
<path d="M626.9 247.19H638.3" stroke="#D39200" stroke-width="1.3"/>
<text x="641.8" y="250.19" font-size="8.8" fill="#000" stroke="#000" stroke-width="0.22">Apla</text>
<rect x="625.5" y="254.22" width="14.1" height="14.06" fill="#fff" stroke="#c4c4c4" stroke-width="0.9"/>
<path d="M626.9 261.25H638.3" stroke="#93AA00" stroke-width="1.3"/>
<text x="641.8" y="264.25" font-size="8.8" fill="#000" stroke="#000" stroke-width="0.22">Drer</text>
<rect x="625.5" y="268.28" width="14.1" height="14.06" fill="#fff" stroke="#c4c4c4" stroke-width="0.9"/>
<path d="M626.9 275.31H638.3" stroke="#00BA38" stroke-width="1.3"/>
<text x="641.8" y="278.31" font-size="8.8" fill="#000" stroke="#000" stroke-width="0.22">haishen</text>
<rect x="625.5" y="282.34" width="14.1" height="14.06" fill="#fff" stroke="#c4c4c4" stroke-width="0.9"/>
<path d="M626.9 289.37H638.3" stroke="#00C19F" stroke-width="1.3"/>
<text x="641.8" y="292.37" font-size="8.8" fill="#000" stroke="#000" stroke-width="0.22">Hsap</text>
<rect x="625.5" y="296.40" width="14.1" height="14.06" fill="#fff" stroke="#c4c4c4" stroke-width="0.9"/>
<path d="M626.9 303.43H638.3" stroke="#00B9E3" stroke-width="1.3"/>
<text x="641.8" y="306.43" font-size="8.8" fill="#000" stroke="#000" stroke-width="0.22">Lvar</text>
<rect x="625.5" y="310.46" width="14.1" height="14.06" fill="#fff" stroke="#c4c4c4" stroke-width="0.9"/>
<path d="M626.9 317.49H638.3" stroke="#619CFF" stroke-width="1.3"/>
<text x="641.8" y="320.49" font-size="8.8" fill="#000" stroke="#000" stroke-width="0.22">Schl</text>
<rect x="625.5" y="324.52" width="14.1" height="14.06" fill="#fff" stroke="#c4c4c4" stroke-width="0.9"/>
<path d="M626.9 331.55H638.3" stroke="#DB72FB" stroke-width="1.3"/>
<text x="641.8" y="334.55" font-size="8.8" fill="#000" stroke="#000" stroke-width="0.22">Skow</text>
<rect x="625.5" y="338.58" width="14.1" height="14.06" fill="#fff" stroke="#c4c4c4" stroke-width="0.9"/>
<path d="M626.9 345.61H638.3" stroke="#FF61C3" stroke-width="1.3"/>
<text x="641.8" y="348.61" font-size="8.8" fill="#000" stroke="#000" stroke-width="0.22">Spur</text>
</svg>
</body></html>
